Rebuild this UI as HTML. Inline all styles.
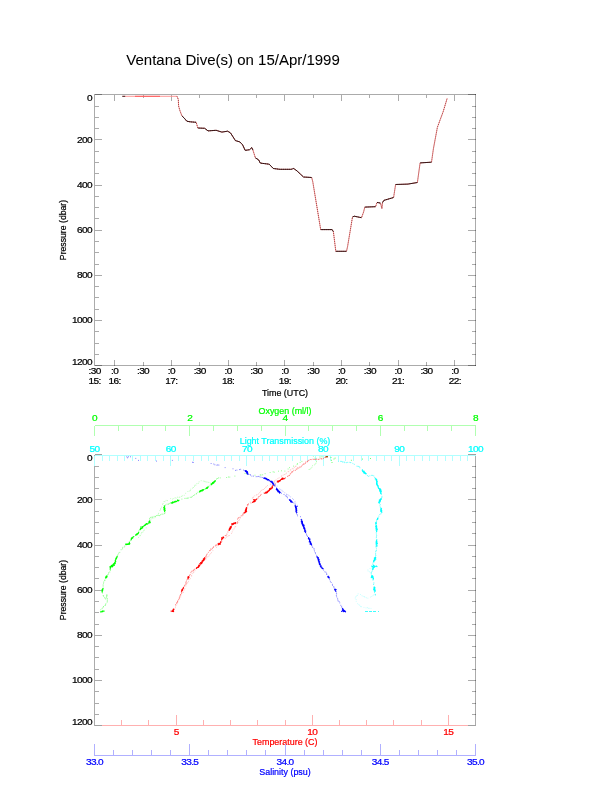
<!DOCTYPE html>
<html><head><meta charset="utf-8"><title>Ventana Dive(s) on 15/Apr/1999</title>
<style>
html,body{margin:0;padding:0;background:#fff;}
svg{display:block;will-change:transform;}
svg text{font-family:"Liberation Sans",Arial,Helvetica,sans-serif;}
svg line{shape-rendering:crispEdges;}
</style></head>
<body>
<svg width="612" height="785" viewBox="0 0 612 785">
<rect width="612" height="785" fill="#ffffff"/>
<text transform="translate(126.30,65.00)" font-size="15" fill="#000" stroke="#000" stroke-width="0.05" text-anchor="start" >Ventana Dive(s) on 15/Apr/1999</text>
<line x1="94.50" y1="94.00" x2="94.50" y2="366.00" stroke="#000" stroke-width="1"  stroke-opacity="0.33"/>
<line x1="475.50" y1="94.00" x2="475.50" y2="366.00" stroke="#000" stroke-width="1"  stroke-opacity="0.33"/>
<line x1="94.50" y1="94.50" x2="475.50" y2="94.50" stroke="#000" stroke-width="1"  stroke-opacity="0.33"/>
<line x1="94.50" y1="365.50" x2="475.50" y2="365.50" stroke="#000" stroke-width="1"  stroke-opacity="0.33"/>
<line x1="94.50" y1="94.50" x2="102.00" y2="94.50" stroke="#000" stroke-width="1"  stroke-opacity="0.33"/>
<line x1="475.50" y1="94.50" x2="468.00" y2="94.50" stroke="#000" stroke-width="1"  stroke-opacity="0.33"/>
<line x1="94.50" y1="106.50" x2="98.50" y2="106.50" stroke="#000" stroke-width="1"  stroke-opacity="0.33"/>
<line x1="475.50" y1="106.50" x2="471.50" y2="106.50" stroke="#000" stroke-width="1"  stroke-opacity="0.33"/>
<line x1="94.50" y1="117.50" x2="98.50" y2="117.50" stroke="#000" stroke-width="1"  stroke-opacity="0.33"/>
<line x1="475.50" y1="117.50" x2="471.50" y2="117.50" stroke="#000" stroke-width="1"  stroke-opacity="0.33"/>
<line x1="94.50" y1="128.50" x2="98.50" y2="128.50" stroke="#000" stroke-width="1"  stroke-opacity="0.33"/>
<line x1="475.50" y1="128.50" x2="471.50" y2="128.50" stroke="#000" stroke-width="1"  stroke-opacity="0.33"/>
<line x1="94.50" y1="139.50" x2="102.00" y2="139.50" stroke="#000" stroke-width="1"  stroke-opacity="0.33"/>
<line x1="475.50" y1="139.50" x2="468.00" y2="139.50" stroke="#000" stroke-width="1"  stroke-opacity="0.33"/>
<line x1="94.50" y1="151.50" x2="98.50" y2="151.50" stroke="#000" stroke-width="1"  stroke-opacity="0.33"/>
<line x1="475.50" y1="151.50" x2="471.50" y2="151.50" stroke="#000" stroke-width="1"  stroke-opacity="0.33"/>
<line x1="94.50" y1="162.50" x2="98.50" y2="162.50" stroke="#000" stroke-width="1"  stroke-opacity="0.33"/>
<line x1="475.50" y1="162.50" x2="471.50" y2="162.50" stroke="#000" stroke-width="1"  stroke-opacity="0.33"/>
<line x1="94.50" y1="173.50" x2="98.50" y2="173.50" stroke="#000" stroke-width="1"  stroke-opacity="0.33"/>
<line x1="475.50" y1="173.50" x2="471.50" y2="173.50" stroke="#000" stroke-width="1"  stroke-opacity="0.33"/>
<line x1="94.50" y1="185.50" x2="102.00" y2="185.50" stroke="#000" stroke-width="1"  stroke-opacity="0.33"/>
<line x1="475.50" y1="185.50" x2="468.00" y2="185.50" stroke="#000" stroke-width="1"  stroke-opacity="0.33"/>
<line x1="94.50" y1="196.50" x2="98.50" y2="196.50" stroke="#000" stroke-width="1"  stroke-opacity="0.33"/>
<line x1="475.50" y1="196.50" x2="471.50" y2="196.50" stroke="#000" stroke-width="1"  stroke-opacity="0.33"/>
<line x1="94.50" y1="207.50" x2="98.50" y2="207.50" stroke="#000" stroke-width="1"  stroke-opacity="0.33"/>
<line x1="475.50" y1="207.50" x2="471.50" y2="207.50" stroke="#000" stroke-width="1"  stroke-opacity="0.33"/>
<line x1="94.50" y1="218.50" x2="98.50" y2="218.50" stroke="#000" stroke-width="1"  stroke-opacity="0.33"/>
<line x1="475.50" y1="218.50" x2="471.50" y2="218.50" stroke="#000" stroke-width="1"  stroke-opacity="0.33"/>
<line x1="94.50" y1="230.50" x2="102.00" y2="230.50" stroke="#000" stroke-width="1"  stroke-opacity="0.33"/>
<line x1="475.50" y1="230.50" x2="468.00" y2="230.50" stroke="#000" stroke-width="1"  stroke-opacity="0.33"/>
<line x1="94.50" y1="241.50" x2="98.50" y2="241.50" stroke="#000" stroke-width="1"  stroke-opacity="0.33"/>
<line x1="475.50" y1="241.50" x2="471.50" y2="241.50" stroke="#000" stroke-width="1"  stroke-opacity="0.33"/>
<line x1="94.50" y1="252.50" x2="98.50" y2="252.50" stroke="#000" stroke-width="1"  stroke-opacity="0.33"/>
<line x1="475.50" y1="252.50" x2="471.50" y2="252.50" stroke="#000" stroke-width="1"  stroke-opacity="0.33"/>
<line x1="94.50" y1="264.50" x2="98.50" y2="264.50" stroke="#000" stroke-width="1"  stroke-opacity="0.33"/>
<line x1="475.50" y1="264.50" x2="471.50" y2="264.50" stroke="#000" stroke-width="1"  stroke-opacity="0.33"/>
<line x1="94.50" y1="275.50" x2="102.00" y2="275.50" stroke="#000" stroke-width="1"  stroke-opacity="0.33"/>
<line x1="475.50" y1="275.50" x2="468.00" y2="275.50" stroke="#000" stroke-width="1"  stroke-opacity="0.33"/>
<line x1="94.50" y1="286.50" x2="98.50" y2="286.50" stroke="#000" stroke-width="1"  stroke-opacity="0.33"/>
<line x1="475.50" y1="286.50" x2="471.50" y2="286.50" stroke="#000" stroke-width="1"  stroke-opacity="0.33"/>
<line x1="94.50" y1="297.50" x2="98.50" y2="297.50" stroke="#000" stroke-width="1"  stroke-opacity="0.33"/>
<line x1="475.50" y1="297.50" x2="471.50" y2="297.50" stroke="#000" stroke-width="1"  stroke-opacity="0.33"/>
<line x1="94.50" y1="309.50" x2="98.50" y2="309.50" stroke="#000" stroke-width="1"  stroke-opacity="0.33"/>
<line x1="475.50" y1="309.50" x2="471.50" y2="309.50" stroke="#000" stroke-width="1"  stroke-opacity="0.33"/>
<line x1="94.50" y1="320.50" x2="102.00" y2="320.50" stroke="#000" stroke-width="1"  stroke-opacity="0.33"/>
<line x1="475.50" y1="320.50" x2="468.00" y2="320.50" stroke="#000" stroke-width="1"  stroke-opacity="0.33"/>
<line x1="94.50" y1="331.50" x2="98.50" y2="331.50" stroke="#000" stroke-width="1"  stroke-opacity="0.33"/>
<line x1="475.50" y1="331.50" x2="471.50" y2="331.50" stroke="#000" stroke-width="1"  stroke-opacity="0.33"/>
<line x1="94.50" y1="343.50" x2="98.50" y2="343.50" stroke="#000" stroke-width="1"  stroke-opacity="0.33"/>
<line x1="475.50" y1="343.50" x2="471.50" y2="343.50" stroke="#000" stroke-width="1"  stroke-opacity="0.33"/>
<line x1="94.50" y1="354.50" x2="98.50" y2="354.50" stroke="#000" stroke-width="1"  stroke-opacity="0.33"/>
<line x1="475.50" y1="354.50" x2="471.50" y2="354.50" stroke="#000" stroke-width="1"  stroke-opacity="0.33"/>
<line x1="94.50" y1="365.50" x2="102.00" y2="365.50" stroke="#000" stroke-width="1"  stroke-opacity="0.33"/>
<line x1="475.50" y1="365.50" x2="468.00" y2="365.50" stroke="#000" stroke-width="1"  stroke-opacity="0.33"/>
<line x1="114.50" y1="365.50" x2="114.50" y2="359.50" stroke="#000" stroke-width="1"  stroke-opacity="0.33"/>
<line x1="114.50" y1="94.50" x2="114.50" y2="100.50" stroke="#000" stroke-width="1"  stroke-opacity="0.33"/>
<line x1="143.50" y1="365.50" x2="143.50" y2="362.00" stroke="#000" stroke-width="1"  stroke-opacity="0.33"/>
<line x1="143.50" y1="94.50" x2="143.50" y2="98.00" stroke="#000" stroke-width="1"  stroke-opacity="0.33"/>
<line x1="171.50" y1="365.50" x2="171.50" y2="359.50" stroke="#000" stroke-width="1"  stroke-opacity="0.33"/>
<line x1="171.50" y1="94.50" x2="171.50" y2="100.50" stroke="#000" stroke-width="1"  stroke-opacity="0.33"/>
<line x1="199.50" y1="365.50" x2="199.50" y2="362.00" stroke="#000" stroke-width="1"  stroke-opacity="0.33"/>
<line x1="199.50" y1="94.50" x2="199.50" y2="98.00" stroke="#000" stroke-width="1"  stroke-opacity="0.33"/>
<line x1="228.50" y1="365.50" x2="228.50" y2="359.50" stroke="#000" stroke-width="1"  stroke-opacity="0.33"/>
<line x1="228.50" y1="94.50" x2="228.50" y2="100.50" stroke="#000" stroke-width="1"  stroke-opacity="0.33"/>
<line x1="256.50" y1="365.50" x2="256.50" y2="362.00" stroke="#000" stroke-width="1"  stroke-opacity="0.33"/>
<line x1="256.50" y1="94.50" x2="256.50" y2="98.00" stroke="#000" stroke-width="1"  stroke-opacity="0.33"/>
<line x1="284.50" y1="365.50" x2="284.50" y2="359.50" stroke="#000" stroke-width="1"  stroke-opacity="0.33"/>
<line x1="284.50" y1="94.50" x2="284.50" y2="100.50" stroke="#000" stroke-width="1"  stroke-opacity="0.33"/>
<line x1="313.50" y1="365.50" x2="313.50" y2="362.00" stroke="#000" stroke-width="1"  stroke-opacity="0.33"/>
<line x1="313.50" y1="94.50" x2="313.50" y2="98.00" stroke="#000" stroke-width="1"  stroke-opacity="0.33"/>
<line x1="341.50" y1="365.50" x2="341.50" y2="359.50" stroke="#000" stroke-width="1"  stroke-opacity="0.33"/>
<line x1="341.50" y1="94.50" x2="341.50" y2="100.50" stroke="#000" stroke-width="1"  stroke-opacity="0.33"/>
<line x1="369.50" y1="365.50" x2="369.50" y2="362.00" stroke="#000" stroke-width="1"  stroke-opacity="0.33"/>
<line x1="369.50" y1="94.50" x2="369.50" y2="98.00" stroke="#000" stroke-width="1"  stroke-opacity="0.33"/>
<line x1="398.50" y1="365.50" x2="398.50" y2="359.50" stroke="#000" stroke-width="1"  stroke-opacity="0.33"/>
<line x1="398.50" y1="94.50" x2="398.50" y2="100.50" stroke="#000" stroke-width="1"  stroke-opacity="0.33"/>
<line x1="426.50" y1="365.50" x2="426.50" y2="362.00" stroke="#000" stroke-width="1"  stroke-opacity="0.33"/>
<line x1="426.50" y1="94.50" x2="426.50" y2="98.00" stroke="#000" stroke-width="1"  stroke-opacity="0.33"/>
<line x1="454.50" y1="365.50" x2="454.50" y2="359.50" stroke="#000" stroke-width="1"  stroke-opacity="0.33"/>
<line x1="454.50" y1="94.50" x2="454.50" y2="100.50" stroke="#000" stroke-width="1"  stroke-opacity="0.33"/>
<text transform="translate(92.00,100.70) scale(1.12,1)" font-size="9.0" fill="#000" stroke="#000" stroke-width="0.22" text-anchor="end"  letter-spacing="-0.55">0</text>
<text transform="translate(92.00,142.83) scale(1.12,1)" font-size="9.0" fill="#000" stroke="#000" stroke-width="0.22" text-anchor="end"  letter-spacing="-0.55">200</text>
<text transform="translate(92.00,187.97) scale(1.12,1)" font-size="9.0" fill="#000" stroke="#000" stroke-width="0.22" text-anchor="end"  letter-spacing="-0.55">400</text>
<text transform="translate(92.00,233.10) scale(1.12,1)" font-size="9.0" fill="#000" stroke="#000" stroke-width="0.22" text-anchor="end"  letter-spacing="-0.55">600</text>
<text transform="translate(92.00,278.23) scale(1.12,1)" font-size="9.0" fill="#000" stroke="#000" stroke-width="0.22" text-anchor="end"  letter-spacing="-0.55">800</text>
<text transform="translate(92.00,323.37) scale(1.12,1)" font-size="9.0" fill="#000" stroke="#000" stroke-width="0.22" text-anchor="end"  letter-spacing="-0.55">1000</text>
<text transform="translate(92.00,365.00) scale(1.12,1)" font-size="9.0" fill="#000" stroke="#000" stroke-width="0.22" text-anchor="end"  letter-spacing="-0.55">1200</text>
<text transform="translate(94.70,373.90) scale(1.12,1)" font-size="9.0" fill="#000" stroke="#000" stroke-width="0.22" text-anchor="middle"  letter-spacing="-0.55">:30</text>
<text transform="translate(94.70,384.20) scale(1.12,1)" font-size="9.0" fill="#000" stroke="#000" stroke-width="0.22" text-anchor="middle"  letter-spacing="-0.55">15:</text>
<text transform="translate(114.69,373.90) scale(1.12,1)" font-size="9.0" fill="#000" stroke="#000" stroke-width="0.22" text-anchor="middle"  letter-spacing="-0.55">:0</text>
<text transform="translate(114.69,384.20) scale(1.12,1)" font-size="9.0" fill="#000" stroke="#000" stroke-width="0.22" text-anchor="middle"  letter-spacing="-0.55">16:</text>
<text transform="translate(143.04,373.90) scale(1.12,1)" font-size="9.0" fill="#000" stroke="#000" stroke-width="0.22" text-anchor="middle"  letter-spacing="-0.55">:30</text>
<text transform="translate(171.39,373.90) scale(1.12,1)" font-size="9.0" fill="#000" stroke="#000" stroke-width="0.22" text-anchor="middle"  letter-spacing="-0.55">:0</text>
<text transform="translate(171.39,384.20) scale(1.12,1)" font-size="9.0" fill="#000" stroke="#000" stroke-width="0.22" text-anchor="middle"  letter-spacing="-0.55">17:</text>
<text transform="translate(199.73,373.90) scale(1.12,1)" font-size="9.0" fill="#000" stroke="#000" stroke-width="0.22" text-anchor="middle"  letter-spacing="-0.55">:30</text>
<text transform="translate(228.08,373.90) scale(1.12,1)" font-size="9.0" fill="#000" stroke="#000" stroke-width="0.22" text-anchor="middle"  letter-spacing="-0.55">:0</text>
<text transform="translate(228.08,384.20) scale(1.12,1)" font-size="9.0" fill="#000" stroke="#000" stroke-width="0.22" text-anchor="middle"  letter-spacing="-0.55">18:</text>
<text transform="translate(256.43,373.90) scale(1.12,1)" font-size="9.0" fill="#000" stroke="#000" stroke-width="0.22" text-anchor="middle"  letter-spacing="-0.55">:30</text>
<text transform="translate(284.78,373.90) scale(1.12,1)" font-size="9.0" fill="#000" stroke="#000" stroke-width="0.22" text-anchor="middle"  letter-spacing="-0.55">:0</text>
<text transform="translate(284.78,384.20) scale(1.12,1)" font-size="9.0" fill="#000" stroke="#000" stroke-width="0.22" text-anchor="middle"  letter-spacing="-0.55">19:</text>
<text transform="translate(313.13,373.90) scale(1.12,1)" font-size="9.0" fill="#000" stroke="#000" stroke-width="0.22" text-anchor="middle"  letter-spacing="-0.55">:30</text>
<text transform="translate(341.47,373.90) scale(1.12,1)" font-size="9.0" fill="#000" stroke="#000" stroke-width="0.22" text-anchor="middle"  letter-spacing="-0.55">:0</text>
<text transform="translate(341.47,384.20) scale(1.12,1)" font-size="9.0" fill="#000" stroke="#000" stroke-width="0.22" text-anchor="middle"  letter-spacing="-0.55">20:</text>
<text transform="translate(369.82,373.90) scale(1.12,1)" font-size="9.0" fill="#000" stroke="#000" stroke-width="0.22" text-anchor="middle"  letter-spacing="-0.55">:30</text>
<text transform="translate(398.17,373.90) scale(1.12,1)" font-size="9.0" fill="#000" stroke="#000" stroke-width="0.22" text-anchor="middle"  letter-spacing="-0.55">:0</text>
<text transform="translate(398.17,384.20) scale(1.12,1)" font-size="9.0" fill="#000" stroke="#000" stroke-width="0.22" text-anchor="middle"  letter-spacing="-0.55">21:</text>
<text transform="translate(426.52,373.90) scale(1.12,1)" font-size="9.0" fill="#000" stroke="#000" stroke-width="0.22" text-anchor="middle"  letter-spacing="-0.55">:30</text>
<text transform="translate(454.87,373.90) scale(1.12,1)" font-size="9.0" fill="#000" stroke="#000" stroke-width="0.22" text-anchor="middle"  letter-spacing="-0.55">:0</text>
<text transform="translate(454.87,384.20) scale(1.12,1)" font-size="9.0" fill="#000" stroke="#000" stroke-width="0.22" text-anchor="middle"  letter-spacing="-0.55">22:</text>
<text transform="translate(285.00,395.60) scale(0.97,1)" font-size="9.2" fill="#000" stroke="#000" stroke-width="0.22" text-anchor="middle" >Time (UTC)</text>
<text transform="translate(66.00,230.00) rotate(-90) scale(0.915,1)" font-size="9.5" fill="#000" stroke="#000" stroke-width="0.22" text-anchor="middle" >Pressure (dbar)</text>
<polyline points="122.3,96.3 125.0,96.3 177.0,96.3 178.3,99.4 178.6,106.0 180.0,110.9 181.9,115.8 184.3,118.2 186.8,121.2 190.0,121.8 196.2,122.3 197.8,128.0 204.7,128.3 208.0,130.9 216.1,130.3 221.9,132.1 227.6,131.2 230.5,132.9 235.4,140.6 239.8,141.9 242.6,144.8 245.2,150.4 249.6,149.7 251.8,147.6 252.9,150.0 255.4,157.9 258.6,159.8 260.3,163.1 269.2,164.2 273.3,168.5 279.8,169.3 291.2,169.3 293.7,168.5 297.0,170.9 303.5,177.0 311.7,177.5 312.8,181.9 320.7,229.6 332.1,229.6 333.4,231.7 335.8,251.3 346.5,251.3 347.6,246.4 352.5,217.0 354.2,216.2 361.5,217.7 363.6,212.0 364.8,207.1 375.6,206.7 377.0,202.4 380.5,203.1 381.9,208.6 382.5,202.7 383.8,200.4 393.6,197.5 395.6,184.5 407.9,184.1 417.4,182.5 420.1,162.9 431.5,162.2 433.4,148.8 437.4,127.3 440.3,119.4 443.2,111.6 447.2,98.2" fill="none" stroke="#ff8c8c" stroke-width="0.9" stroke-linejoin="round"/>
<line x1="135" y1="96.3" x2="160" y2="96.3" stroke="#ff5050" stroke-width="0.9" style="shape-rendering:auto"/>
<polyline points="177.0,96.3 178.3,99.4 178.6,106.0 180.0,110.9 181.9,115.8 184.3,118.2 186.8,121.2 190.0,121.8 196.2,122.3 197.8,128.0 204.7,128.3 208.0,130.9 216.1,130.3 221.9,132.1 227.6,131.2 230.5,132.9 235.4,140.6 239.8,141.9 242.6,144.8 245.2,150.4 249.6,149.7 251.8,147.6 252.9,150.0 255.4,157.9 258.6,159.8 260.3,163.1 269.2,164.2 273.3,168.5 279.8,169.3 291.2,169.3 293.7,168.5 297.0,170.9 303.5,177.0 311.7,177.5 312.8,181.9 320.7,229.6 332.1,229.6 333.4,231.7 335.8,251.3 346.5,251.3 347.6,246.4 352.5,217.0 354.2,216.2 361.5,217.7 363.6,212.0 364.8,207.1 375.6,206.7 377.0,202.4 380.5,203.1 381.9,208.6 382.5,202.7 383.8,200.4 393.6,197.5 395.6,184.5 407.9,184.1 417.4,182.5 420.1,162.9 431.5,162.2 433.4,148.8 437.4,127.3 440.3,119.4 443.2,111.6 447.2,98.2" fill="none" stroke="#5a1010" stroke-width="0.9" stroke-opacity="0.75" stroke-dasharray="0.9 1.1" stroke-linejoin="round"/>
<polyline points="181.9,115.8 184.3,118.2 186.8,121.2 190.0,121.8 196.2,122.3" fill="none" stroke="#140000" stroke-width="0.95" stroke-opacity="0.85" stroke-linejoin="round"/>
<polyline points="197.8,128.0 204.7,128.3 208.0,130.9 216.1,130.3 221.9,132.1 227.6,131.2 230.5,132.9 235.4,140.6 239.8,141.9 242.6,144.8 245.2,150.4 249.6,149.7 251.8,147.6 252.9,150.0" fill="none" stroke="#140000" stroke-width="0.95" stroke-opacity="0.85" stroke-linejoin="round"/>
<polyline points="255.4,157.9 258.6,159.8 260.3,163.1 269.2,164.2 273.3,168.5 279.8,169.3 291.2,169.3 293.7,168.5 297.0,170.9 303.5,177.0 311.7,177.5" fill="none" stroke="#140000" stroke-width="0.95" stroke-opacity="0.85" stroke-linejoin="round"/>
<polyline points="320.7,229.6 332.1,229.6 333.4,231.7" fill="none" stroke="#140000" stroke-width="0.95" stroke-opacity="0.85" stroke-linejoin="round"/>
<polyline points="335.8,251.3 346.5,251.3" fill="none" stroke="#140000" stroke-width="0.95" stroke-opacity="0.85" stroke-linejoin="round"/>
<polyline points="352.5,217.0 354.2,216.2 361.5,217.7" fill="none" stroke="#140000" stroke-width="0.95" stroke-opacity="0.85" stroke-linejoin="round"/>
<polyline points="364.8,207.1 375.6,206.7" fill="none" stroke="#140000" stroke-width="0.95" stroke-opacity="0.85" stroke-linejoin="round"/>
<polyline points="377.0,202.4 380.5,203.1" fill="none" stroke="#140000" stroke-width="0.95" stroke-opacity="0.85" stroke-linejoin="round"/>
<polyline points="382.5,202.7 383.8,200.4 393.6,197.5" fill="none" stroke="#140000" stroke-width="0.95" stroke-opacity="0.85" stroke-linejoin="round"/>
<polyline points="395.6,184.5 407.9,184.1 417.4,182.5" fill="none" stroke="#140000" stroke-width="0.95" stroke-opacity="0.85" stroke-linejoin="round"/>
<polyline points="420.1,162.9 431.5,162.2" fill="none" stroke="#140000" stroke-width="0.95" stroke-opacity="0.85" stroke-linejoin="round"/>
<polyline points="122.3,96.3 125.2,96.3" fill="none" stroke="#140000" stroke-width="0.95" stroke-opacity="0.85" stroke-linejoin="round"/>
<line x1="94.50" y1="455.00" x2="94.50" y2="726.00" stroke="#000" stroke-width="1"  stroke-opacity="0.33"/>
<line x1="475.50" y1="455.00" x2="475.50" y2="726.00" stroke="#000" stroke-width="1"  stroke-opacity="0.33"/>
<line x1="94.50" y1="454.50" x2="102.00" y2="454.50" stroke="#000" stroke-width="1"  stroke-opacity="0.33"/>
<line x1="475.50" y1="454.50" x2="468.00" y2="454.50" stroke="#000" stroke-width="1"  stroke-opacity="0.33"/>
<line x1="94.50" y1="466.50" x2="98.50" y2="466.50" stroke="#000" stroke-width="1"  stroke-opacity="0.33"/>
<line x1="475.50" y1="466.50" x2="471.50" y2="466.50" stroke="#000" stroke-width="1"  stroke-opacity="0.33"/>
<line x1="94.50" y1="477.50" x2="98.50" y2="477.50" stroke="#000" stroke-width="1"  stroke-opacity="0.33"/>
<line x1="475.50" y1="477.50" x2="471.50" y2="477.50" stroke="#000" stroke-width="1"  stroke-opacity="0.33"/>
<line x1="94.50" y1="488.50" x2="98.50" y2="488.50" stroke="#000" stroke-width="1"  stroke-opacity="0.33"/>
<line x1="475.50" y1="488.50" x2="471.50" y2="488.50" stroke="#000" stroke-width="1"  stroke-opacity="0.33"/>
<line x1="94.50" y1="499.50" x2="102.00" y2="499.50" stroke="#000" stroke-width="1"  stroke-opacity="0.33"/>
<line x1="475.50" y1="499.50" x2="468.00" y2="499.50" stroke="#000" stroke-width="1"  stroke-opacity="0.33"/>
<line x1="94.50" y1="511.50" x2="98.50" y2="511.50" stroke="#000" stroke-width="1"  stroke-opacity="0.33"/>
<line x1="475.50" y1="511.50" x2="471.50" y2="511.50" stroke="#000" stroke-width="1"  stroke-opacity="0.33"/>
<line x1="94.50" y1="522.50" x2="98.50" y2="522.50" stroke="#000" stroke-width="1"  stroke-opacity="0.33"/>
<line x1="475.50" y1="522.50" x2="471.50" y2="522.50" stroke="#000" stroke-width="1"  stroke-opacity="0.33"/>
<line x1="94.50" y1="533.50" x2="98.50" y2="533.50" stroke="#000" stroke-width="1"  stroke-opacity="0.33"/>
<line x1="475.50" y1="533.50" x2="471.50" y2="533.50" stroke="#000" stroke-width="1"  stroke-opacity="0.33"/>
<line x1="94.50" y1="545.50" x2="102.00" y2="545.50" stroke="#000" stroke-width="1"  stroke-opacity="0.33"/>
<line x1="475.50" y1="545.50" x2="468.00" y2="545.50" stroke="#000" stroke-width="1"  stroke-opacity="0.33"/>
<line x1="94.50" y1="556.50" x2="98.50" y2="556.50" stroke="#000" stroke-width="1"  stroke-opacity="0.33"/>
<line x1="475.50" y1="556.50" x2="471.50" y2="556.50" stroke="#000" stroke-width="1"  stroke-opacity="0.33"/>
<line x1="94.50" y1="567.50" x2="98.50" y2="567.50" stroke="#000" stroke-width="1"  stroke-opacity="0.33"/>
<line x1="475.50" y1="567.50" x2="471.50" y2="567.50" stroke="#000" stroke-width="1"  stroke-opacity="0.33"/>
<line x1="94.50" y1="578.50" x2="98.50" y2="578.50" stroke="#000" stroke-width="1"  stroke-opacity="0.33"/>
<line x1="475.50" y1="578.50" x2="471.50" y2="578.50" stroke="#000" stroke-width="1"  stroke-opacity="0.33"/>
<line x1="94.50" y1="590.50" x2="102.00" y2="590.50" stroke="#000" stroke-width="1"  stroke-opacity="0.33"/>
<line x1="475.50" y1="590.50" x2="468.00" y2="590.50" stroke="#000" stroke-width="1"  stroke-opacity="0.33"/>
<line x1="94.50" y1="601.50" x2="98.50" y2="601.50" stroke="#000" stroke-width="1"  stroke-opacity="0.33"/>
<line x1="475.50" y1="601.50" x2="471.50" y2="601.50" stroke="#000" stroke-width="1"  stroke-opacity="0.33"/>
<line x1="94.50" y1="612.50" x2="98.50" y2="612.50" stroke="#000" stroke-width="1"  stroke-opacity="0.33"/>
<line x1="475.50" y1="612.50" x2="471.50" y2="612.50" stroke="#000" stroke-width="1"  stroke-opacity="0.33"/>
<line x1="94.50" y1="624.50" x2="98.50" y2="624.50" stroke="#000" stroke-width="1"  stroke-opacity="0.33"/>
<line x1="475.50" y1="624.50" x2="471.50" y2="624.50" stroke="#000" stroke-width="1"  stroke-opacity="0.33"/>
<line x1="94.50" y1="635.50" x2="102.00" y2="635.50" stroke="#000" stroke-width="1"  stroke-opacity="0.33"/>
<line x1="475.50" y1="635.50" x2="468.00" y2="635.50" stroke="#000" stroke-width="1"  stroke-opacity="0.33"/>
<line x1="94.50" y1="646.50" x2="98.50" y2="646.50" stroke="#000" stroke-width="1"  stroke-opacity="0.33"/>
<line x1="475.50" y1="646.50" x2="471.50" y2="646.50" stroke="#000" stroke-width="1"  stroke-opacity="0.33"/>
<line x1="94.50" y1="657.50" x2="98.50" y2="657.50" stroke="#000" stroke-width="1"  stroke-opacity="0.33"/>
<line x1="475.50" y1="657.50" x2="471.50" y2="657.50" stroke="#000" stroke-width="1"  stroke-opacity="0.33"/>
<line x1="94.50" y1="669.50" x2="98.50" y2="669.50" stroke="#000" stroke-width="1"  stroke-opacity="0.33"/>
<line x1="475.50" y1="669.50" x2="471.50" y2="669.50" stroke="#000" stroke-width="1"  stroke-opacity="0.33"/>
<line x1="94.50" y1="680.50" x2="102.00" y2="680.50" stroke="#000" stroke-width="1"  stroke-opacity="0.33"/>
<line x1="475.50" y1="680.50" x2="468.00" y2="680.50" stroke="#000" stroke-width="1"  stroke-opacity="0.33"/>
<line x1="94.50" y1="691.50" x2="98.50" y2="691.50" stroke="#000" stroke-width="1"  stroke-opacity="0.33"/>
<line x1="475.50" y1="691.50" x2="471.50" y2="691.50" stroke="#000" stroke-width="1"  stroke-opacity="0.33"/>
<line x1="94.50" y1="703.50" x2="98.50" y2="703.50" stroke="#000" stroke-width="1"  stroke-opacity="0.33"/>
<line x1="475.50" y1="703.50" x2="471.50" y2="703.50" stroke="#000" stroke-width="1"  stroke-opacity="0.33"/>
<line x1="94.50" y1="714.50" x2="98.50" y2="714.50" stroke="#000" stroke-width="1"  stroke-opacity="0.33"/>
<line x1="475.50" y1="714.50" x2="471.50" y2="714.50" stroke="#000" stroke-width="1"  stroke-opacity="0.33"/>
<line x1="94.50" y1="725.50" x2="102.00" y2="725.50" stroke="#000" stroke-width="1"  stroke-opacity="0.33"/>
<line x1="475.50" y1="725.50" x2="468.00" y2="725.50" stroke="#000" stroke-width="1"  stroke-opacity="0.33"/>
<text transform="translate(92.00,460.70) scale(1.12,1)" font-size="9.0" fill="#000" stroke="#000" stroke-width="0.22" text-anchor="end"  letter-spacing="-0.55">0</text>
<text transform="translate(92.00,502.83) scale(1.12,1)" font-size="9.0" fill="#000" stroke="#000" stroke-width="0.22" text-anchor="end"  letter-spacing="-0.55">200</text>
<text transform="translate(92.00,547.97) scale(1.12,1)" font-size="9.0" fill="#000" stroke="#000" stroke-width="0.22" text-anchor="end"  letter-spacing="-0.55">400</text>
<text transform="translate(92.00,593.10) scale(1.12,1)" font-size="9.0" fill="#000" stroke="#000" stroke-width="0.22" text-anchor="end"  letter-spacing="-0.55">600</text>
<text transform="translate(92.00,638.23) scale(1.12,1)" font-size="9.0" fill="#000" stroke="#000" stroke-width="0.22" text-anchor="end"  letter-spacing="-0.55">800</text>
<text transform="translate(92.00,683.37) scale(1.12,1)" font-size="9.0" fill="#000" stroke="#000" stroke-width="0.22" text-anchor="end"  letter-spacing="-0.55">1000</text>
<text transform="translate(92.00,725.00) scale(1.12,1)" font-size="9.0" fill="#000" stroke="#000" stroke-width="0.22" text-anchor="end"  letter-spacing="-0.55">1200</text>
<text transform="translate(66.00,590.00) rotate(-90) scale(0.915,1)" font-size="9.5" fill="#000" stroke="#000" stroke-width="0.22" text-anchor="middle" >Pressure (dbar)</text>
<line x1="94.50" y1="425.50" x2="475.50" y2="425.50" stroke="#b0ffb0" stroke-width="1" />
<line x1="94.50" y1="425.50" x2="94.50" y2="435.50" stroke="#b0ffb0" stroke-width="1" />
<line x1="118.50" y1="425.50" x2="118.50" y2="430.80" stroke="#b0ffb0" stroke-width="1" />
<line x1="142.50" y1="425.50" x2="142.50" y2="430.80" stroke="#b0ffb0" stroke-width="1" />
<line x1="165.50" y1="425.50" x2="165.50" y2="430.80" stroke="#b0ffb0" stroke-width="1" />
<line x1="189.50" y1="425.50" x2="189.50" y2="435.50" stroke="#b0ffb0" stroke-width="1" />
<line x1="213.50" y1="425.50" x2="213.50" y2="430.80" stroke="#b0ffb0" stroke-width="1" />
<line x1="237.50" y1="425.50" x2="237.50" y2="430.80" stroke="#b0ffb0" stroke-width="1" />
<line x1="261.50" y1="425.50" x2="261.50" y2="430.80" stroke="#b0ffb0" stroke-width="1" />
<line x1="285.50" y1="425.50" x2="285.50" y2="435.50" stroke="#b0ffb0" stroke-width="1" />
<line x1="308.50" y1="425.50" x2="308.50" y2="430.80" stroke="#b0ffb0" stroke-width="1" />
<line x1="332.50" y1="425.50" x2="332.50" y2="430.80" stroke="#b0ffb0" stroke-width="1" />
<line x1="356.50" y1="425.50" x2="356.50" y2="430.80" stroke="#b0ffb0" stroke-width="1" />
<line x1="380.50" y1="425.50" x2="380.50" y2="435.50" stroke="#b0ffb0" stroke-width="1" />
<line x1="404.50" y1="425.50" x2="404.50" y2="430.80" stroke="#b0ffb0" stroke-width="1" />
<line x1="427.50" y1="425.50" x2="427.50" y2="430.80" stroke="#b0ffb0" stroke-width="1" />
<line x1="451.50" y1="425.50" x2="451.50" y2="430.80" stroke="#b0ffb0" stroke-width="1" />
<line x1="475.50" y1="425.50" x2="475.50" y2="435.50" stroke="#b0ffb0" stroke-width="1" />
<text transform="translate(94.50,421.00) scale(1.12,1)" font-size="9.0" fill="#00ff00" stroke="#00ff00" stroke-width="0.22" text-anchor="middle"  letter-spacing="-0.55">0</text>
<text transform="translate(189.75,421.00) scale(1.12,1)" font-size="9.0" fill="#00ff00" stroke="#00ff00" stroke-width="0.22" text-anchor="middle"  letter-spacing="-0.55">2</text>
<text transform="translate(285.00,421.00) scale(1.12,1)" font-size="9.0" fill="#00ff00" stroke="#00ff00" stroke-width="0.22" text-anchor="middle"  letter-spacing="-0.55">4</text>
<text transform="translate(380.25,421.00) scale(1.12,1)" font-size="9.0" fill="#00ff00" stroke="#00ff00" stroke-width="0.22" text-anchor="middle"  letter-spacing="-0.55">6</text>
<text transform="translate(475.50,421.00) scale(1.12,1)" font-size="9.0" fill="#00ff00" stroke="#00ff00" stroke-width="0.22" text-anchor="middle"  letter-spacing="-0.55">8</text>
<text transform="translate(285.00,414.30) scale(0.97,1)" font-size="9.2" fill="#00ff00" stroke="#00ff00" stroke-width="0.22" text-anchor="middle" >Oxygen (ml/l)</text>
<line x1="94.50" y1="455.50" x2="475.50" y2="455.50" stroke="#b0ffff" stroke-width="1" />
<line x1="94.50" y1="455.50" x2="94.50" y2="466.00" stroke="#b0ffff" stroke-width="1" />
<line x1="102.50" y1="455.50" x2="102.50" y2="460.80" stroke="#b0ffff" stroke-width="1" />
<line x1="109.50" y1="455.50" x2="109.50" y2="460.80" stroke="#b0ffff" stroke-width="1" />
<line x1="117.50" y1="455.50" x2="117.50" y2="460.80" stroke="#b0ffff" stroke-width="1" />
<line x1="124.50" y1="455.50" x2="124.50" y2="460.80" stroke="#b0ffff" stroke-width="1" />
<line x1="132.50" y1="455.50" x2="132.50" y2="460.80" stroke="#b0ffff" stroke-width="1" />
<line x1="140.50" y1="455.50" x2="140.50" y2="460.80" stroke="#b0ffff" stroke-width="1" />
<line x1="147.50" y1="455.50" x2="147.50" y2="460.80" stroke="#b0ffff" stroke-width="1" />
<line x1="155.50" y1="455.50" x2="155.50" y2="460.80" stroke="#b0ffff" stroke-width="1" />
<line x1="163.50" y1="455.50" x2="163.50" y2="460.80" stroke="#b0ffff" stroke-width="1" />
<line x1="170.50" y1="455.50" x2="170.50" y2="466.00" stroke="#b0ffff" stroke-width="1" />
<line x1="178.50" y1="455.50" x2="178.50" y2="460.80" stroke="#b0ffff" stroke-width="1" />
<line x1="185.50" y1="455.50" x2="185.50" y2="460.80" stroke="#b0ffff" stroke-width="1" />
<line x1="193.50" y1="455.50" x2="193.50" y2="460.80" stroke="#b0ffff" stroke-width="1" />
<line x1="201.50" y1="455.50" x2="201.50" y2="460.80" stroke="#b0ffff" stroke-width="1" />
<line x1="208.50" y1="455.50" x2="208.50" y2="460.80" stroke="#b0ffff" stroke-width="1" />
<line x1="216.50" y1="455.50" x2="216.50" y2="460.80" stroke="#b0ffff" stroke-width="1" />
<line x1="224.50" y1="455.50" x2="224.50" y2="460.80" stroke="#b0ffff" stroke-width="1" />
<line x1="231.50" y1="455.50" x2="231.50" y2="460.80" stroke="#b0ffff" stroke-width="1" />
<line x1="239.50" y1="455.50" x2="239.50" y2="460.80" stroke="#b0ffff" stroke-width="1" />
<line x1="246.50" y1="455.50" x2="246.50" y2="466.00" stroke="#b0ffff" stroke-width="1" />
<line x1="254.50" y1="455.50" x2="254.50" y2="460.80" stroke="#b0ffff" stroke-width="1" />
<line x1="262.50" y1="455.50" x2="262.50" y2="460.80" stroke="#b0ffff" stroke-width="1" />
<line x1="269.50" y1="455.50" x2="269.50" y2="460.80" stroke="#b0ffff" stroke-width="1" />
<line x1="277.50" y1="455.50" x2="277.50" y2="460.80" stroke="#b0ffff" stroke-width="1" />
<line x1="285.50" y1="455.50" x2="285.50" y2="460.80" stroke="#b0ffff" stroke-width="1" />
<line x1="292.50" y1="455.50" x2="292.50" y2="460.80" stroke="#b0ffff" stroke-width="1" />
<line x1="300.50" y1="455.50" x2="300.50" y2="460.80" stroke="#b0ffff" stroke-width="1" />
<line x1="307.50" y1="455.50" x2="307.50" y2="460.80" stroke="#b0ffff" stroke-width="1" />
<line x1="315.50" y1="455.50" x2="315.50" y2="460.80" stroke="#b0ffff" stroke-width="1" />
<line x1="323.50" y1="455.50" x2="323.50" y2="466.00" stroke="#b0ffff" stroke-width="1" />
<line x1="330.50" y1="455.50" x2="330.50" y2="460.80" stroke="#b0ffff" stroke-width="1" />
<line x1="338.50" y1="455.50" x2="338.50" y2="460.80" stroke="#b0ffff" stroke-width="1" />
<line x1="345.50" y1="455.50" x2="345.50" y2="460.80" stroke="#b0ffff" stroke-width="1" />
<line x1="353.50" y1="455.50" x2="353.50" y2="460.80" stroke="#b0ffff" stroke-width="1" />
<line x1="361.50" y1="455.50" x2="361.50" y2="460.80" stroke="#b0ffff" stroke-width="1" />
<line x1="368.50" y1="455.50" x2="368.50" y2="460.80" stroke="#b0ffff" stroke-width="1" />
<line x1="376.50" y1="455.50" x2="376.50" y2="460.80" stroke="#b0ffff" stroke-width="1" />
<line x1="384.50" y1="455.50" x2="384.50" y2="460.80" stroke="#b0ffff" stroke-width="1" />
<line x1="391.50" y1="455.50" x2="391.50" y2="460.80" stroke="#b0ffff" stroke-width="1" />
<line x1="399.50" y1="455.50" x2="399.50" y2="466.00" stroke="#b0ffff" stroke-width="1" />
<line x1="406.50" y1="455.50" x2="406.50" y2="460.80" stroke="#b0ffff" stroke-width="1" />
<line x1="414.50" y1="455.50" x2="414.50" y2="460.80" stroke="#b0ffff" stroke-width="1" />
<line x1="422.50" y1="455.50" x2="422.50" y2="460.80" stroke="#b0ffff" stroke-width="1" />
<line x1="429.50" y1="455.50" x2="429.50" y2="460.80" stroke="#b0ffff" stroke-width="1" />
<line x1="437.50" y1="455.50" x2="437.50" y2="460.80" stroke="#b0ffff" stroke-width="1" />
<line x1="445.50" y1="455.50" x2="445.50" y2="460.80" stroke="#b0ffff" stroke-width="1" />
<line x1="452.50" y1="455.50" x2="452.50" y2="460.80" stroke="#b0ffff" stroke-width="1" />
<line x1="460.50" y1="455.50" x2="460.50" y2="460.80" stroke="#b0ffff" stroke-width="1" />
<line x1="467.50" y1="455.50" x2="467.50" y2="460.80" stroke="#b0ffff" stroke-width="1" />
<text transform="translate(94.50,451.90) scale(1.12,1)" font-size="9.0" fill="#00ffff" stroke="#00ffff" stroke-width="0.22" text-anchor="middle"  letter-spacing="-0.55">50</text>
<text transform="translate(170.70,451.90) scale(1.12,1)" font-size="9.0" fill="#00ffff" stroke="#00ffff" stroke-width="0.22" text-anchor="middle"  letter-spacing="-0.55">60</text>
<text transform="translate(246.90,451.90) scale(1.12,1)" font-size="9.0" fill="#00ffff" stroke="#00ffff" stroke-width="0.22" text-anchor="middle"  letter-spacing="-0.55">70</text>
<text transform="translate(323.10,451.90) scale(1.12,1)" font-size="9.0" fill="#00ffff" stroke="#00ffff" stroke-width="0.22" text-anchor="middle"  letter-spacing="-0.55">80</text>
<text transform="translate(399.30,451.90) scale(1.12,1)" font-size="9.0" fill="#00ffff" stroke="#00ffff" stroke-width="0.22" text-anchor="middle"  letter-spacing="-0.55">90</text>
<text transform="translate(475.50,451.90) scale(1.12,1)" font-size="9.0" fill="#00ffff" stroke="#00ffff" stroke-width="0.22" text-anchor="middle"  letter-spacing="-0.55">100</text>
<text transform="translate(285.00,444.00) scale(0.97,1)" font-size="9.2" fill="#00ffff" stroke="#00ffff" stroke-width="0.22" text-anchor="middle" >Light Transmission (%)</text>
<line x1="94.50" y1="725.50" x2="475.50" y2="725.50" stroke="#ffb0b0" stroke-width="1" />
<line x1="121.50" y1="725.50" x2="121.50" y2="720.20" stroke="#ffb0b0" stroke-width="1" />
<line x1="148.50" y1="725.50" x2="148.50" y2="720.20" stroke="#ffb0b0" stroke-width="1" />
<line x1="176.50" y1="725.50" x2="176.50" y2="714.50" stroke="#ffb0b0" stroke-width="1" />
<line x1="203.50" y1="725.50" x2="203.50" y2="720.20" stroke="#ffb0b0" stroke-width="1" />
<line x1="230.50" y1="725.50" x2="230.50" y2="720.20" stroke="#ffb0b0" stroke-width="1" />
<line x1="257.50" y1="725.50" x2="257.50" y2="720.20" stroke="#ffb0b0" stroke-width="1" />
<line x1="285.50" y1="725.50" x2="285.50" y2="720.20" stroke="#ffb0b0" stroke-width="1" />
<line x1="312.50" y1="725.50" x2="312.50" y2="714.50" stroke="#ffb0b0" stroke-width="1" />
<line x1="339.50" y1="725.50" x2="339.50" y2="720.20" stroke="#ffb0b0" stroke-width="1" />
<line x1="366.50" y1="725.50" x2="366.50" y2="720.20" stroke="#ffb0b0" stroke-width="1" />
<line x1="393.50" y1="725.50" x2="393.50" y2="720.20" stroke="#ffb0b0" stroke-width="1" />
<line x1="421.50" y1="725.50" x2="421.50" y2="720.20" stroke="#ffb0b0" stroke-width="1" />
<line x1="448.50" y1="725.50" x2="448.50" y2="714.50" stroke="#ffb0b0" stroke-width="1" />
<text transform="translate(176.14,734.80) scale(1.12,1)" font-size="9.0" fill="#ff0000" stroke="#ff0000" stroke-width="0.22" text-anchor="middle"  letter-spacing="-0.55">5</text>
<text transform="translate(312.21,734.80) scale(1.12,1)" font-size="9.0" fill="#ff0000" stroke="#ff0000" stroke-width="0.22" text-anchor="middle"  letter-spacing="-0.55">10</text>
<text transform="translate(448.29,734.80) scale(1.12,1)" font-size="9.0" fill="#ff0000" stroke="#ff0000" stroke-width="0.22" text-anchor="middle"  letter-spacing="-0.55">15</text>
<text transform="translate(285.00,745.10) scale(0.97,1)" font-size="9.2" fill="#ff0000" stroke="#ff0000" stroke-width="0.22" text-anchor="middle" >Temperature (C)</text>
<line x1="94.50" y1="755.50" x2="475.50" y2="755.50" stroke="#b0b0ff" stroke-width="1" />
<line x1="94.50" y1="755.50" x2="94.50" y2="744.00" stroke="#b0b0ff" stroke-width="1" />
<line x1="113.50" y1="755.50" x2="113.50" y2="750.00" stroke="#b0b0ff" stroke-width="1" />
<line x1="132.50" y1="755.50" x2="132.50" y2="750.00" stroke="#b0b0ff" stroke-width="1" />
<line x1="151.50" y1="755.50" x2="151.50" y2="750.00" stroke="#b0b0ff" stroke-width="1" />
<line x1="170.50" y1="755.50" x2="170.50" y2="750.00" stroke="#b0b0ff" stroke-width="1" />
<line x1="189.50" y1="755.50" x2="189.50" y2="744.00" stroke="#b0b0ff" stroke-width="1" />
<line x1="208.50" y1="755.50" x2="208.50" y2="750.00" stroke="#b0b0ff" stroke-width="1" />
<line x1="227.50" y1="755.50" x2="227.50" y2="750.00" stroke="#b0b0ff" stroke-width="1" />
<line x1="246.50" y1="755.50" x2="246.50" y2="750.00" stroke="#b0b0ff" stroke-width="1" />
<line x1="265.50" y1="755.50" x2="265.50" y2="750.00" stroke="#b0b0ff" stroke-width="1" />
<line x1="285.50" y1="755.50" x2="285.50" y2="744.00" stroke="#b0b0ff" stroke-width="1" />
<line x1="304.50" y1="755.50" x2="304.50" y2="750.00" stroke="#b0b0ff" stroke-width="1" />
<line x1="323.50" y1="755.50" x2="323.50" y2="750.00" stroke="#b0b0ff" stroke-width="1" />
<line x1="342.50" y1="755.50" x2="342.50" y2="750.00" stroke="#b0b0ff" stroke-width="1" />
<line x1="361.50" y1="755.50" x2="361.50" y2="750.00" stroke="#b0b0ff" stroke-width="1" />
<line x1="380.50" y1="755.50" x2="380.50" y2="744.00" stroke="#b0b0ff" stroke-width="1" />
<line x1="399.50" y1="755.50" x2="399.50" y2="750.00" stroke="#b0b0ff" stroke-width="1" />
<line x1="418.50" y1="755.50" x2="418.50" y2="750.00" stroke="#b0b0ff" stroke-width="1" />
<line x1="437.50" y1="755.50" x2="437.50" y2="750.00" stroke="#b0b0ff" stroke-width="1" />
<line x1="456.50" y1="755.50" x2="456.50" y2="750.00" stroke="#b0b0ff" stroke-width="1" />
<line x1="475.50" y1="755.50" x2="475.50" y2="744.00" stroke="#b0b0ff" stroke-width="1" />
<text transform="translate(94.50,765.20) scale(1.12,1)" font-size="9.0" fill="#0000ff" stroke="#0000ff" stroke-width="0.22" text-anchor="middle"  letter-spacing="-0.55">33.0</text>
<text transform="translate(189.75,765.20) scale(1.12,1)" font-size="9.0" fill="#0000ff" stroke="#0000ff" stroke-width="0.22" text-anchor="middle"  letter-spacing="-0.55">33.5</text>
<text transform="translate(285.00,765.20) scale(1.12,1)" font-size="9.0" fill="#0000ff" stroke="#0000ff" stroke-width="0.22" text-anchor="middle"  letter-spacing="-0.55">34.0</text>
<text transform="translate(380.25,765.20) scale(1.12,1)" font-size="9.0" fill="#0000ff" stroke="#0000ff" stroke-width="0.22" text-anchor="middle"  letter-spacing="-0.55">34.5</text>
<text transform="translate(475.50,765.20) scale(1.12,1)" font-size="9.0" fill="#0000ff" stroke="#0000ff" stroke-width="0.22" text-anchor="middle"  letter-spacing="-0.55">35.0</text>
<text transform="translate(285.00,774.50) scale(0.97,1)" font-size="9.2" fill="#0000ff" stroke="#0000ff" stroke-width="0.22" text-anchor="middle" >Salinity (psu)</text>
<line x1="94.50" y1="454.50" x2="102.00" y2="454.50" stroke="#a0a0a0" stroke-width="1" />
<line x1="475.50" y1="454.50" x2="468.00" y2="454.50" stroke="#a0a0a0" stroke-width="1" />
<line x1="94.50" y1="725.50" x2="102.00" y2="725.50" stroke="#a0a0a0" stroke-width="1" />
<line x1="475.50" y1="725.50" x2="468.00" y2="725.50" stroke="#a0a0a0" stroke-width="1" />
<path d="M100.8,609.8h.01M102.1,608.6h.01M103.0,607.4h.01M103.6,606.5h.01M105.0,605.4h.01M105.4,604.9h.01M105.9,603.8h.01M107.1,602.1h.01M107.3,601.0h.01M107.2,599.9h.01M107.2,598.5h.01M106.8,596.9h.01M107.0,595.6h.01M106.9,594.7h.01M106.7,596.0h.01M106.1,597.8h.01M105.4,598.9h.01M104.6,597.8h.01M103.7,596.2h.01M103.2,595.6h.01M102.6,593.0h.01M102.4,591.8h.01M102.8,588.5h.01M103.1,588.0h.01M103.1,586.1h.01M103.1,584.9h.01M103.5,583.2h.01M103.8,582.0h.01M104.8,580.6h.01M104.9,580.0h.01M105.8,578.3h.01M105.9,577.6h.01M107.4,574.9h.01M108.5,574.1h.01M108.7,572.8h.01M109.8,572.0h.01M110.3,570.5h.01M109.9,569.4h.01M110.6,568.0h.01M110.8,566.3h.01M111.6,565.4h.01M112.7,564.7h.01M113.5,563.7h.01M114.8,562.6h.01M115.3,560.2h.01M115.9,558.8h.01M117.0,557.9h.01M116.8,556.3h.01M117.5,555.8h.01M118.0,554.7h.01M118.7,553.2h.01M119.8,552.4h.01M121.1,549.7h.01M122.4,548.8h.01M122.8,547.4h.01M124.3,546.9h.01M125.0,545.8h.01M125.6,544.5h.01M126.5,544.1h.01M128.4,544.4h.01M129.7,543.8h.01M130.3,540.7h.01M130.9,539.8h.01M132.5,537.6h.01M133.3,536.8h.01M136.1,535.1h.01M137.2,534.1h.01M138.2,533.2h.01M139.0,532.4h.01M139.0,530.8h.01M140.7,529.2h.01M142.8,527.1h.01M143.4,526.5h.01M144.8,525.5h.01M146.2,524.6h.01M146.9,523.5h.01M148.4,522.9h.01M149.2,522.9h.01M149.5,521.4h.01M149.4,518.7h.01M150.3,517.7h.01M151.2,517.2h.01M152.5,517.1h.01M154.1,516.4h.01M155.4,516.4h.01M156.7,515.6h.01M158.2,515.5h.01M159.5,515.6h.01M160.6,514.8h.01M161.9,514.2h.01M163.0,514.1h.01M164.6,513.6h.01M165.1,512.8h.01M164.5,510.7h.01M164.3,509.5h.01M164.7,508.6h.01M165.0,505.9h.01M165.7,505.0h.01M167.1,504.2h.01M168.4,504.2h.01M169.2,503.6h.01M170.3,503.0h.01M171.4,502.9h.01M172.8,502.4h.01M174.4,501.6h.01M177.3,500.5h.01M177.8,500.7h.01M179.1,500.1h.01M181.9,499.1h.01M184.9,498.4h.01M186.2,498.3h.01M187.7,498.2h.01M188.2,498.0h.01M190.2,497.3h.01M191.3,497.3h.01M192.2,496.6h.01M193.3,495.5h.01M194.5,494.9h.01M196.1,494.1h.01M196.7,493.4h.01M197.9,492.3h.01M199.3,491.7h.01M200.7,490.9h.01M201.5,490.6h.01M202.6,490.1h.01M204.4,489.3h.01M205.3,489.0h.01M206.2,487.9h.01M207.1,487.8h.01M208.2,486.3h.01M209.9,485.9h.01M210.3,484.7h.01M211.3,484.0h.01M213.0,483.6h.01M213.4,482.7h.01M214.5,480.9h.01M215.6,480.5h.01M216.6,479.1h.01M217.3,478.5h.01M218.4,477.9h.01M220.2,477.9h.01M226.7,477.5h.01M228.4,477.0h.01M229.8,477.1h.01M234.9,476.1h.01M245.0,473.5h.01M246.4,473.8h.01M255.0,475.2h.01M260.2,475.0h.01M261.0,475.0h.01M262.7,474.8h.01M265.1,473.7h.01M270.1,472.5h.01M273.1,471.8h.01M274.2,472.2h.01M278.4,471.2h.01M281.4,470.8h.01M284.9,471.1h.01M288.1,469.0h.01M289.6,467.6h.01M293.4,466.1h.01M297.1,464.3h.01M297.5,463.7h.01M300.1,462.4h.01M301.9,461.4h.01" fill="none" stroke="#00ff00" stroke-width="1.0" stroke-opacity="0.5" stroke-linecap="round"/>
<path d="M138.4,537.4h.01M139.9,535.8h.01M140.3,535.4h.01M141.2,533.8h.01M141.7,532.5h.01M142.8,532.2h.01M143.6,530.8h.01M144.6,530.1h.01M146.2,527.8h.01M147.4,524.5h.01M147.7,523.9h.01M148.1,522.1h.01M149.5,519.9h.01M150.9,519.8h.01M152.0,518.6h.01M152.9,517.8h.01M154.0,517.9h.01M155.2,517.2h.01M157.5,515.3h.01M158.3,514.1h.01M158.7,513.3h.01M159.9,510.6h.01M160.4,509.3h.01M160.8,508.6h.01M161.5,507.1h.01M162.4,504.3h.01M163.1,503.6h.01M164.0,501.6h.01M164.9,501.7h.01M166.1,500.4h.01M167.6,500.6h.01M170.7,498.6h.01M172.5,499.1h.01M173.8,498.6h.01M175.1,497.7h.01M176.1,498.2h.01M177.5,497.2h.01M179.1,497.4h.01M179.9,497.0h.01M181.5,496.4h.01M182.3,495.8h.01M184.2,495.3h.01M185.7,493.3h.01M187.9,491.5h.01M189.3,491.0h.01M190.4,490.6h.01M190.8,489.2h.01M192.4,488.1h.01M193.4,487.5h.01M194.5,486.3h.01M194.9,485.3h.01M195.9,485.1h.01M196.9,483.6h.01M198.3,483.3h.01M199.1,481.8h.01M201.2,480.7h.01M203.3,481.1h.01M204.7,481.3h.01M205.2,481.8h.01M206.3,482.0h.01M207.9,482.1h.01M208.9,482.5h.01M211.0,482.9h.01M212.1,484.1h.01" fill="none" stroke="#00ff00" stroke-width="0.8" stroke-opacity="0.35" stroke-linecap="round"/>
<path d="M309.0,469.5h.01M309.9,469.3h.01M310.9,468.3h.01M311.9,467.3h.01M312.5,465.7h.01M314.3,464.9h.01M315.2,464.0h.01M316.0,463.2h.01M316.5,461.7h.01M316.5,461.0h.01M316.0,458.3h.01M314.7,458.2h.01M313.3,456.5h.01" fill="none" stroke="#00ff00" stroke-width="0.8" stroke-opacity="0.4" stroke-linecap="round"/>
<path d="M101.0,611.9h.01M100.5,611.8h.01M101.4,611.8h.01M102.9,611.5h.01M102.2,611.2h.01M102.3,611.7h.01M103.0,611.0h.01M104.1,611.1h.01M103.0,610.8h.01M102.1,591.9h.01M102.0,591.1h.01M102.5,590.8h.01M102.3,591.1h.01M102.8,589.9h.01M102.1,589.7h.01M102.9,589.1h.01M102.7,589.1h.01M103.0,588.7h.01M102.1,589.8h.01M102.0,589.8h.01M102.0,590.0h.01M105.5,577.8h.01M106.2,577.7h.01M105.9,577.2h.01M106.7,576.9h.01M106.3,576.8h.01M107.0,576.6h.01M106.8,575.8h.01M106.8,577.2h.01M107.0,576.2h.01M106.0,576.3h.01M110.4,568.9h.01M110.0,567.8h.01M110.3,567.4h.01M110.4,567.5h.01M110.7,566.5h.01M111.1,566.8h.01M111.1,565.9h.01M110.0,566.5h.01M111.1,566.4h.01M110.7,567.5h.01M111.6,566.3h.01M111.5,566.2h.01M111.6,565.4h.01M112.3,565.5h.01M112.5,565.4h.01M112.8,566.2h.01M112.6,566.8h.01M112.3,566.3h.01M112.4,565.4h.01M112.2,565.4h.01M113.3,564.8h.01M112.9,564.8h.01M113.9,564.4h.01M113.9,563.9h.01M114.7,563.7h.01M114.4,563.1h.01M114.5,563.1h.01M114.3,565.3h.01M113.9,564.5h.01M113.9,565.4h.01M112.6,565.0h.01M113.2,564.6h.01M113.3,564.1h.01M114.0,564.4h.01M114.0,563.7h.01M114.9,563.8h.01M114.6,562.7h.01M115.4,563.0h.01M115.1,561.8h.01M115.6,561.6h.01M115.7,561.4h.01M115.3,562.9h.01M115.3,563.0h.01M114.6,563.7h.01M115.2,560.6h.01M115.5,560.5h.01M115.6,559.7h.01M115.6,559.8h.01M116.3,558.7h.01M116.2,558.9h.01M115.9,558.6h.01M116.2,558.0h.01M116.8,557.6h.01M116.7,557.0h.01M117.2,556.6h.01M116.4,558.6h.01M116.0,558.1h.01M116.3,558.7h.01M127.7,544.2h.01M128.5,544.2h.01M128.9,543.7h.01M128.7,543.6h.01M129.2,543.6h.01M129.5,543.1h.01M129.3,542.2h.01M129.8,543.5h.01M129.5,543.2h.01M129.5,544.2h.01M125.6,544.1h.01M126.6,544.6h.01M126.6,544.0h.01M127.7,544.0h.01M128.1,544.3h.01M128.4,544.1h.01M128.4,544.1h.01M127.7,543.9h.01M127.2,544.3h.01M128.1,544.1h.01M131.3,539.7h.01M131.3,538.7h.01M131.7,538.3h.01M131.5,537.8h.01M131.9,538.1h.01M132.7,537.8h.01M132.6,537.5h.01M132.9,537.0h.01M133.8,536.6h.01M132.7,537.9h.01M132.2,538.3h.01M131.5,538.4h.01M135.7,535.2h.01M135.7,535.0h.01M135.9,534.7h.01M136.2,534.3h.01M137.0,534.7h.01M137.1,534.0h.01M137.4,534.1h.01M138.1,533.7h.01M138.4,533.1h.01M138.5,532.3h.01M138.4,532.3h.01M137.1,533.9h.01M136.5,534.1h.01M137.4,533.6h.01M140.0,529.5h.01M140.3,529.1h.01M140.7,529.0h.01M141.4,528.3h.01M141.7,528.3h.01M140.3,529.5h.01M140.5,528.6h.01M140.3,529.2h.01M140.9,528.7h.01M140.9,528.7h.01M141.7,528.1h.01M142.1,527.9h.01M142.6,527.9h.01M142.3,527.7h.01M142.5,527.0h.01M143.1,526.5h.01M143.1,526.6h.01M140.7,527.1h.01M142.2,526.6h.01M141.0,527.1h.01M144.1,525.8h.01M144.0,525.6h.01M144.1,525.8h.01M145.1,525.3h.01M144.7,525.1h.01M145.7,524.5h.01M146.1,524.3h.01M146.0,523.8h.01M146.4,523.5h.01M146.9,523.9h.01M147.7,523.8h.01M145.6,524.3h.01M145.4,524.5h.01M145.8,524.6h.01M148.1,523.5h.01M149.0,522.5h.01M149.1,522.4h.01M149.9,522.8h.01M149.4,521.9h.01M149.9,521.5h.01M149.4,521.4h.01M149.3,521.2h.01M149.7,520.8h.01M150.2,522.4h.01M149.7,522.4h.01M148.9,521.8h.01M164.6,508.7h.01M164.2,508.5h.01M164.1,508.3h.01M164.1,507.1h.01M164.2,507.4h.01M164.5,506.3h.01M164.3,505.8h.01M164.7,507.8h.01M164.7,507.9h.01M163.7,507.7h.01M164.6,511.5h.01M164.8,510.8h.01M165.1,510.4h.01M164.9,509.6h.01M164.4,509.0h.01M164.1,509.2h.01M164.9,508.6h.01M164.1,508.2h.01M164.5,507.5h.01M164.0,509.9h.01M164.8,509.3h.01M164.3,509.2h.01M171.2,502.8h.01M172.1,502.7h.01M172.2,503.2h.01M172.8,502.9h.01M173.3,502.1h.01M173.5,502.3h.01M174.3,502.0h.01M174.6,502.0h.01M174.6,502.1h.01M172.5,502.9h.01M172.7,501.9h.01M172.7,502.8h.01M174.4,501.8h.01M175.2,501.9h.01M175.4,501.4h.01M175.9,501.6h.01M176.3,501.5h.01M175.2,501.2h.01M175.8,501.5h.01M174.9,501.7h.01M176.9,501.3h.01M177.4,500.4h.01M177.6,500.2h.01M178.6,500.8h.01M178.8,500.3h.01M177.8,500.4h.01M177.3,500.5h.01M177.7,500.2h.01M199.6,491.7h.01M199.7,491.9h.01M200.0,491.1h.01M200.4,491.3h.01M201.1,491.0h.01M201.2,490.7h.01M201.5,490.8h.01M200.0,490.9h.01M200.1,491.4h.01M200.7,491.2h.01M200.1,491.4h.01M201.0,490.7h.01M200.8,490.6h.01M201.4,490.7h.01M201.6,490.3h.01M202.1,490.7h.01M202.9,489.7h.01M203.6,489.5h.01M203.4,490.1h.01M202.5,490.8h.01M201.9,490.1h.01M202.2,490.0h.01M206.3,488.4h.01M205.9,488.6h.01M206.7,487.8h.01M207.6,487.7h.01M207.1,487.3h.01M208.1,486.8h.01M208.0,487.3h.01M207.4,488.0h.01M207.3,488.3h.01M207.4,488.1h.01M213.5,482.7h.01M213.6,482.1h.01M214.1,481.6h.01M214.2,481.9h.01M214.8,481.5h.01M214.8,481.0h.01M215.3,480.9h.01M214.3,481.8h.01M215.1,481.2h.01M214.6,481.9h.01M211.6,484.7h.01M211.2,483.8h.01M211.7,483.9h.01M212.7,483.2h.01M212.5,483.5h.01M212.9,482.6h.01M213.3,482.1h.01M213.9,482.1h.01M213.8,482.2h.01M214.3,482.1h.01M214.4,481.4h.01M213.7,483.1h.01M213.2,483.0h.01M212.6,482.7h.01" fill="none" stroke="#00ff00" stroke-width="1.25" stroke-opacity="1" stroke-linecap="round"/>
<path d="M331.5,460.3h.01M335.1,458.1h.01M351.3,460.3h.01M362.4,459.1h.01M370.4,458.5h.01M320.0,457.0h.01M331.0,457.5h.01M334.0,459.0h.01M332.0,462.5h.01M322.0,456.8h.01" fill="none" stroke="#00ff00" stroke-width="1.0" stroke-opacity="0.7" stroke-linecap="round"/>
<path d="M172.0,611.6h.01M173.1,610.3h.01M173.2,609.1h.01M175.6,604.7h.01M176.6,603.1h.01M177.1,602.7h.01M177.5,601.7h.01M177.8,600.9h.01M178.5,599.7h.01M179.1,598.2h.01M179.5,597.9h.01M179.8,596.7h.01M180.1,595.6h.01M180.6,594.5h.01M181.4,593.1h.01M181.3,592.0h.01M181.6,591.7h.01M182.0,590.4h.01M182.3,588.9h.01M183.2,588.4h.01M184.1,586.6h.01M184.5,585.4h.01M185.3,584.8h.01M186.0,583.5h.01M185.9,582.4h.01M186.2,581.7h.01M186.7,580.1h.01M187.8,579.4h.01M188.0,578.8h.01M188.2,577.2h.01M189.2,576.2h.01M189.7,575.6h.01M190.1,574.5h.01M190.9,572.6h.01M191.3,571.3h.01M192.8,571.1h.01M193.3,570.5h.01M194.0,569.6h.01M194.8,569.2h.01M196.3,568.5h.01M197.8,567.0h.01M198.4,566.3h.01M199.1,565.9h.01M200.2,563.7h.01M200.8,563.0h.01M202.2,561.6h.01M203.3,560.2h.01M203.8,559.0h.01M204.8,558.5h.01M204.7,557.5h.01M205.6,556.3h.01M206.4,556.0h.01M206.4,554.9h.01M207.2,554.0h.01M208.3,552.3h.01M209.6,550.7h.01M210.2,550.6h.01M210.4,549.1h.01M211.7,549.2h.01M212.5,548.3h.01M213.2,547.5h.01M213.7,546.7h.01M215.3,545.9h.01M215.9,545.1h.01M216.7,545.0h.01M217.7,543.9h.01M219.2,544.3h.01M219.5,543.6h.01M220.5,542.7h.01M221.2,541.6h.01M221.4,540.4h.01M221.5,539.8h.01M222.2,539.0h.01M223.0,536.7h.01M225.2,535.6h.01M226.1,535.4h.01M226.9,534.1h.01M227.9,532.0h.01M229.4,530.1h.01M229.5,529.7h.01M229.8,528.7h.01M230.4,527.6h.01M231.4,526.7h.01M231.8,524.3h.01M233.0,524.3h.01M233.9,523.5h.01M234.8,523.3h.01M235.9,522.8h.01M237.5,522.9h.01M237.5,521.8h.01M237.5,519.1h.01M238.2,518.2h.01M238.9,517.6h.01M240.1,517.2h.01M241.2,515.7h.01M242.8,515.0h.01M243.0,514.2h.01M243.8,513.0h.01M244.7,512.3h.01M245.2,511.8h.01M245.7,510.5h.01M245.8,509.8h.01M246.6,509.0h.01M247.0,507.7h.01M247.3,505.2h.01M247.6,504.6h.01M248.6,504.0h.01M251.0,503.0h.01M252.5,502.1h.01M253.9,501.3h.01M254.5,501.4h.01M255.0,499.7h.01M256.4,499.4h.01M257.3,498.9h.01M258.1,498.0h.01M258.4,496.8h.01M259.7,496.3h.01M260.4,495.4h.01M261.1,494.4h.01M263.9,493.0h.01M265.9,493.0h.01M266.8,491.9h.01M267.2,491.2h.01M268.5,490.6h.01M269.2,489.8h.01M269.9,489.0h.01M271.0,488.7h.01M272.7,487.1h.01M273.4,485.7h.01M273.8,485.5h.01M275.1,484.9h.01M275.1,483.4h.01M277.0,482.1h.01M277.9,481.9h.01M278.9,481.4h.01M279.6,480.4h.01M280.4,479.9h.01M282.0,479.1h.01M282.6,478.7h.01M283.7,478.5h.01M285.1,478.0h.01M285.4,477.9h.01M287.5,476.4h.01M288.3,475.8h.01M289.5,475.5h.01M290.1,474.2h.01M290.8,473.4h.01M291.9,472.5h.01M291.9,471.8h.01M292.8,471.5h.01M293.8,470.3h.01M295.3,470.4h.01M296.2,469.2h.01M297.0,469.0h.01M297.7,467.9h.01M298.8,468.1h.01M299.7,467.1h.01M300.8,467.0h.01M301.4,466.1h.01M302.5,465.0h.01M303.6,464.1h.01M304.1,464.1h.01M305.2,463.5h.01M305.6,462.2h.01M307.0,462.0h.01M307.6,461.5h.01M308.1,460.7h.01M308.9,460.3h.01M310.2,459.5h.01M311.2,459.6h.01M313.0,459.2h.01M313.9,459.4h.01M314.9,459.5h.01M315.9,459.3h.01M316.7,459.1h.01M318.2,459.4h.01M318.9,459.4h.01M320.1,458.7h.01M321.4,458.8h.01M322.0,458.9h.01M323.6,458.4h.01M324.9,457.4h.01M325.3,457.6h.01M326.7,456.8h.01" fill="none" stroke="#ff0000" stroke-width="1.0" stroke-opacity="0.55" stroke-linecap="round"/>
<path d="M173.9,610.1h.01M174.3,609.0h.01M175.5,607.7h.01M175.5,606.1h.01M176.1,605.3h.01M176.9,603.9h.01M177.8,602.0h.01M179.8,599.2h.01M180.8,597.0h.01M180.9,595.2h.01M181.6,593.9h.01M182.3,592.8h.01M183.5,592.3h.01M184.3,589.9h.01M184.9,588.6h.01M185.9,586.1h.01M186.5,584.6h.01M187.0,583.3h.01M187.8,582.6h.01M188.6,581.4h.01M189.1,579.6h.01M190.3,578.6h.01M191.7,576.2h.01M191.7,575.5h.01M192.2,573.6h.01M193.3,572.7h.01M193.9,572.0h.01M195.0,570.7h.01M197.0,568.6h.01M197.2,567.4h.01M198.3,567.0h.01M199.7,566.1h.01M201.3,563.8h.01M202.1,562.4h.01M203.1,561.4h.01M204.4,560.4h.01M204.7,559.9h.01M206.1,559.0h.01M206.6,557.7h.01M207.7,556.9h.01M208.8,556.2h.01M209.3,554.9h.01M210.3,553.7h.01M211.6,552.7h.01M212.9,550.7h.01M216.6,547.3h.01M217.8,545.7h.01M218.6,545.2h.01M219.5,543.9h.01M220.6,542.9h.01M221.0,541.7h.01M222.3,541.1h.01M223.9,538.9h.01M225.3,538.4h.01M226.2,537.2h.01M227.1,536.4h.01M228.4,535.8h.01M229.6,535.5h.01M231.6,533.4h.01M232.2,531.9h.01M232.9,529.9h.01M234.1,528.8h.01M234.9,527.1h.01M235.7,526.5h.01M236.6,523.7h.01M237.4,523.3h.01M238.8,522.3h.01M238.8,520.5h.01M239.6,519.7h.01M240.2,518.1h.01M242.0,516.1h.01M242.9,515.2h.01M243.1,513.6h.01M243.7,512.8h.01M245.9,509.4h.01M246.7,508.0h.01M247.2,506.5h.01M248.0,505.4h.01M248.6,504.1h.01M250.1,502.0h.01M252.3,498.8h.01M252.8,497.5h.01M253.6,497.1h.01M254.8,495.8h.01M256.5,495.0h.01M257.1,494.7h.01M258.4,493.9h.01M259.7,492.7h.01M260.4,491.7h.01M261.2,490.5h.01M262.2,489.8h.01M263.6,489.5h.01M264.5,488.6h.01M265.5,487.3h.01M266.7,486.7h.01M267.6,485.5h.01M270.3,484.7h.01M270.9,483.9h.01M272.0,482.7h.01M273.4,482.1h.01M274.6,481.4h.01M275.0,480.6h.01M276.1,479.8h.01M277.9,478.6h.01M279.1,477.8h.01M281.3,476.4h.01M281.8,475.7h.01M283.2,475.0h.01M284.4,474.5h.01M285.8,474.0h.01M286.5,473.1h.01M288.1,471.6h.01M288.8,471.7h.01M290.2,470.1h.01M290.8,469.8h.01M292.2,468.8h.01M293.1,468.3h.01M294.5,467.3h.01M295.7,466.5h.01M296.0,466.0h.01" fill="none" stroke="#ff0000" stroke-width="0.8" stroke-opacity="0.3" stroke-linecap="round"/>
<path d="M172.6,611.3h.01M173.0,610.4h.01M173.0,610.5h.01M173.4,610.3h.01M173.3,609.8h.01M173.8,609.4h.01M171.1,611.0h.01M172.2,611.0h.01M172.5,611.1h.01M172.8,611.3h.01M172.4,610.8h.01M172.7,610.8h.01M173.0,609.9h.01M173.2,609.8h.01M173.7,609.3h.01M173.6,609.0h.01M172.5,611.4h.01M173.6,611.5h.01M173.0,610.8h.01M181.5,591.0h.01M182.2,590.6h.01M181.9,590.9h.01M182.0,589.9h.01M182.1,589.7h.01M182.3,589.4h.01M182.9,588.8h.01M183.3,588.0h.01M183.4,587.7h.01M182.6,589.9h.01M181.8,589.9h.01M182.5,589.4h.01M188.1,578.6h.01M188.0,578.1h.01M188.5,577.5h.01M188.9,577.4h.01M188.5,576.5h.01M188.3,577.0h.01M187.8,577.1h.01M188.0,577.6h.01M196.5,568.1h.01M196.4,568.3h.01M196.6,568.0h.01M196.8,567.7h.01M198.0,567.4h.01M198.2,567.1h.01M198.5,566.7h.01M198.6,566.9h.01M198.8,566.4h.01M198.9,565.6h.01M198.9,565.2h.01M198.3,567.4h.01M198.4,567.3h.01M197.4,567.4h.01M198.8,566.8h.01M198.6,565.9h.01M199.1,566.1h.01M199.7,565.1h.01M199.8,565.3h.01M199.4,565.8h.01M198.5,566.4h.01M198.7,565.8h.01M200.3,564.1h.01M199.9,563.6h.01M200.8,563.9h.01M201.3,563.1h.01M200.7,562.6h.01M201.3,562.7h.01M202.1,562.2h.01M202.0,561.5h.01M202.0,561.1h.01M201.2,562.8h.01M201.8,563.3h.01M201.0,562.6h.01M202.4,561.0h.01M203.4,560.7h.01M203.3,559.9h.01M203.8,559.7h.01M203.9,559.2h.01M204.1,559.1h.01M204.7,559.0h.01M204.4,558.0h.01M204.9,557.9h.01M203.8,558.9h.01M203.3,559.1h.01M203.9,559.9h.01M202.4,562.2h.01M202.3,561.7h.01M202.1,561.2h.01M202.9,560.6h.01M203.2,560.8h.01M203.4,560.2h.01M203.5,559.6h.01M203.6,560.2h.01M202.5,561.0h.01M202.9,560.3h.01M218.5,544.5h.01M218.7,543.7h.01M219.2,543.6h.01M219.5,544.1h.01M219.9,543.7h.01M220.0,543.3h.01M220.6,542.3h.01M220.8,542.4h.01M220.6,541.8h.01M220.2,543.7h.01M220.5,544.0h.01M220.2,543.9h.01M218.3,543.9h.01M218.4,544.1h.01M219.2,544.3h.01M219.4,544.2h.01M219.7,543.6h.01M219.1,543.9h.01M219.5,543.4h.01M218.8,543.3h.01M221.9,539.3h.01M221.6,539.2h.01M221.6,539.0h.01M221.9,538.3h.01M222.5,538.0h.01M223.0,537.8h.01M223.3,537.5h.01M223.7,537.5h.01M223.4,537.1h.01M222.1,538.2h.01M222.7,538.3h.01M221.8,537.7h.01M229.0,530.3h.01M229.1,530.0h.01M229.3,530.2h.01M229.1,530.0h.01M229.8,529.0h.01M229.6,528.7h.01M230.4,528.5h.01M230.0,527.6h.01M230.2,527.9h.01M229.2,529.2h.01M229.4,529.3h.01M229.5,528.7h.01M229.7,529.4h.01M230.2,529.2h.01M229.7,528.3h.01M230.0,528.0h.01M230.9,527.9h.01M230.3,526.9h.01M231.3,527.0h.01M231.1,526.4h.01M231.1,526.4h.01M230.3,527.9h.01M230.7,527.0h.01M230.2,527.2h.01M232.0,524.9h.01M231.8,524.8h.01M232.3,524.6h.01M232.4,524.0h.01M232.5,524.0h.01M233.2,523.4h.01M233.8,524.1h.01M231.9,523.6h.01M232.9,523.7h.01M232.2,524.0h.01M232.4,524.2h.01M233.0,523.6h.01M233.5,524.2h.01M234.2,523.3h.01M234.0,523.5h.01M234.7,523.0h.01M235.3,523.5h.01M235.3,523.4h.01M235.6,522.6h.01M234.7,522.8h.01M233.8,523.4h.01M233.6,523.4h.01M244.3,512.9h.01M244.9,512.7h.01M245.3,512.1h.01M245.7,512.0h.01M246.1,511.1h.01M245.6,511.4h.01M246.1,510.5h.01M245.9,510.4h.01M246.4,509.8h.01M245.8,509.5h.01M246.0,508.9h.01M246.2,511.8h.01M245.2,510.8h.01M246.6,511.3h.01M245.8,511.9h.01M245.8,511.3h.01M245.9,510.9h.01M245.6,510.1h.01M246.4,509.5h.01M245.9,508.8h.01M246.0,508.6h.01M246.6,508.2h.01M246.4,507.7h.01M246.2,510.0h.01M246.2,509.2h.01M246.4,510.2h.01M252.7,502.3h.01M253.9,501.7h.01M253.6,501.3h.01M254.3,501.7h.01M254.7,501.4h.01M253.6,501.3h.01M254.5,501.7h.01M253.9,501.7h.01M253.2,502.1h.01M254.2,501.2h.01M254.4,501.6h.01M255.0,500.9h.01M255.3,501.0h.01M254.8,500.2h.01M255.7,499.9h.01M255.8,499.9h.01M256.5,499.1h.01M253.7,499.7h.01M254.5,500.4h.01M254.3,499.8h.01M264.7,493.2h.01M265.1,493.2h.01M265.6,492.7h.01M266.1,492.6h.01M266.5,492.9h.01M267.0,492.2h.01M267.3,492.5h.01M267.3,491.6h.01M267.7,491.8h.01M265.9,492.0h.01M266.5,492.8h.01M266.9,492.4h.01M266.9,492.5h.01M267.7,491.9h.01M267.3,491.5h.01M267.7,491.4h.01M268.1,490.9h.01M268.8,490.8h.01M269.3,490.5h.01M268.4,491.2h.01M267.8,491.5h.01M267.9,491.6h.01M269.4,489.7h.01M269.8,489.5h.01M269.7,489.6h.01M269.9,489.1h.01M270.1,488.7h.01M270.8,488.6h.01M270.8,488.0h.01M270.0,489.5h.01M270.8,489.2h.01M269.7,488.7h.01M270.4,488.7h.01M270.4,488.4h.01M270.8,488.1h.01M271.5,487.9h.01M271.9,487.9h.01M271.8,487.7h.01M272.4,487.4h.01M272.1,486.5h.01M272.4,485.9h.01M272.4,487.9h.01M271.5,488.3h.01M272.5,487.9h.01M277.8,481.9h.01M278.2,481.8h.01M278.4,481.9h.01M278.3,481.7h.01M279.4,480.9h.01M277.4,481.1h.01M279.0,481.0h.01M278.9,481.2h.01M278.2,481.1h.01M279.1,480.7h.01M279.2,481.2h.01M279.9,481.0h.01M280.5,480.0h.01M280.2,480.4h.01M281.0,479.5h.01M281.2,479.4h.01M281.5,479.0h.01M279.2,481.1h.01M279.7,481.0h.01M279.4,480.5h.01M281.6,478.9h.01M281.7,479.2h.01M282.4,478.9h.01M283.1,478.7h.01M283.4,478.9h.01M283.2,478.8h.01M284.3,478.7h.01M282.2,478.2h.01M282.9,478.1h.01M282.2,479.3h.01" fill="none" stroke="#ff0000" stroke-width="1.25" stroke-opacity="1" stroke-linecap="round"/>
<rect x="325.5" y="456" width="2.5" height="1.4" fill="#a05010"/>
<path d="M211.1,463.5h.01M213.8,464.0h.01M214.9,464.8h.01M216.9,465.2h.01M217.8,464.9h.01M218.9,465.1h.01M225.1,467.6h.01M233.0,468.8h.01M235.5,470.4h.01M236.9,470.1h.01M239.5,469.6h.01M240.7,469.3h.01M243.6,470.1h.01M244.9,470.5h.01M246.1,470.8h.01M246.8,472.6h.01M247.2,473.6h.01M248.1,474.4h.01M250.0,474.5h.01M250.6,475.1h.01M251.9,476.1h.01M253.4,476.1h.01M256.1,476.7h.01M257.2,476.6h.01M258.5,476.4h.01M259.8,476.8h.01M261.0,477.2h.01M262.3,477.5h.01M263.9,478.2h.01M265.0,478.0h.01M266.3,479.0h.01M267.5,479.8h.01M268.7,479.7h.01M270.0,480.6h.01M271.5,481.1h.01M272.0,482.3h.01M272.5,483.0h.01M274.7,485.9h.01M275.1,486.2h.01M276.4,487.7h.01M276.5,488.6h.01M277.1,490.1h.01M279.3,491.5h.01M280.7,492.3h.01M281.4,493.3h.01M284.0,494.5h.01M285.3,495.8h.01M286.5,496.1h.01M287.0,496.8h.01M287.6,497.8h.01M289.1,499.4h.01M289.8,499.9h.01M290.6,501.3h.01M291.6,501.8h.01M292.9,502.5h.01M294.0,503.1h.01M295.2,504.3h.01M295.1,505.3h.01M295.9,506.6h.01M296.5,507.8h.01M296.3,509.0h.01M296.5,510.6h.01M296.8,512.2h.01M296.5,513.3h.01M297.1,514.5h.01M297.6,515.8h.01M300.4,516.7h.01M301.5,519.3h.01M302.0,520.0h.01M302.4,522.0h.01M302.0,523.0h.01M302.5,524.8h.01M303.1,525.8h.01M303.5,526.6h.01M303.9,527.8h.01M305.0,529.4h.01M305.3,530.9h.01M305.2,532.1h.01M306.1,533.3h.01M306.5,534.7h.01M307.0,535.4h.01M307.4,536.5h.01M308.8,537.8h.01M309.6,539.4h.01M309.4,540.2h.01M310.5,541.8h.01M310.7,542.7h.01M311.1,543.8h.01M312.2,546.8h.01M312.8,547.4h.01M314.0,548.5h.01M314.1,549.8h.01M314.5,551.0h.01M315.2,552.5h.01M315.6,553.7h.01M316.7,555.3h.01M317.2,557.3h.01M318.1,558.4h.01M318.6,560.2h.01M319.1,562.6h.01M319.3,563.5h.01M320.1,564.7h.01M321.0,566.0h.01M321.3,567.6h.01M322.7,568.3h.01M323.0,569.1h.01M323.7,570.1h.01M324.9,571.8h.01M326.0,572.3h.01M326.7,573.7h.01M326.8,574.5h.01M328.2,575.9h.01M328.3,577.0h.01M329.1,578.5h.01M329.7,579.7h.01M330.3,581.3h.01M331.1,582.5h.01M332.3,584.3h.01M332.6,585.3h.01M333.8,586.6h.01M334.0,587.7h.01M335.5,589.1h.01M335.2,590.4h.01M336.0,591.4h.01M336.3,593.0h.01M336.7,593.9h.01M336.3,595.4h.01M336.7,596.8h.01M337.7,598.3h.01M337.8,599.8h.01M338.1,600.9h.01M339.1,601.6h.01M339.8,602.9h.01M340.8,605.3h.01M341.7,606.4h.01M341.9,607.6h.01M342.3,609.5h.01M343.3,610.2h.01M344.4,611.3h.01" fill="none" stroke="#0000ff" stroke-width="1.0" stroke-opacity="0.55" stroke-linecap="round"/>
<path d="M267.2,478.9h.01M268.1,479.6h.01M269.1,480.1h.01M270.8,480.6h.01M271.9,482.0h.01M273.1,482.4h.01M274.2,482.7h.01M275.2,484.3h.01M275.6,485.1h.01M277.1,486.1h.01M279.7,488.9h.01M280.8,489.7h.01M282.0,490.4h.01M283.0,491.6h.01M284.8,492.8h.01M286.4,494.2h.01M287.0,494.5h.01M288.2,495.1h.01M289.2,495.9h.01M290.7,496.9h.01M292.4,498.6h.01M293.6,499.5h.01M295.0,501.4h.01M295.8,503.1h.01M297.3,505.3h.01" fill="none" stroke="#0000ff" stroke-width="0.8" stroke-opacity="0.35" stroke-linecap="round"/>
<path d="M245.3,471.3h.01M245.3,470.6h.01M246.1,470.9h.01M245.9,471.5h.01M246.5,472.0h.01M246.8,472.6h.01M247.1,472.8h.01M246.3,470.9h.01M246.4,471.0h.01M245.9,471.3h.01M245.7,471.6h.01M246.0,471.6h.01M246.5,471.7h.01M246.7,472.4h.01M247.3,472.6h.01M247.1,473.4h.01M247.1,473.6h.01M247.9,473.7h.01M247.9,474.2h.01M247.6,472.6h.01M247.4,471.7h.01M246.7,471.9h.01M263.9,478.2h.01M264.7,477.8h.01M264.9,478.6h.01M265.6,478.3h.01M266.1,478.5h.01M266.3,478.8h.01M267.1,479.2h.01M267.4,479.5h.01M267.4,479.9h.01M266.2,478.9h.01M265.5,478.3h.01M266.0,479.1h.01M266.2,478.4h.01M266.6,478.5h.01M266.5,479.1h.01M267.2,479.7h.01M267.6,479.9h.01M268.1,479.6h.01M268.5,479.7h.01M269.0,480.1h.01M269.2,480.7h.01M267.3,479.7h.01M267.3,479.3h.01M268.0,479.5h.01M270.4,481.5h.01M271.0,481.6h.01M271.6,481.8h.01M271.6,481.6h.01M272.3,482.2h.01M271.7,481.8h.01M272.0,481.3h.01M271.4,482.1h.01M272.1,481.5h.01M272.0,481.8h.01M272.3,482.8h.01M272.4,483.1h.01M272.7,483.8h.01M273.4,484.0h.01M273.0,484.2h.01M273.9,484.7h.01M274.1,485.2h.01M272.5,482.6h.01M273.4,483.3h.01M272.4,482.9h.01M277.1,489.6h.01M277.3,490.3h.01M277.9,490.1h.01M278.1,490.7h.01M278.5,490.9h.01M278.3,491.6h.01M279.3,491.3h.01M278.8,492.0h.01M279.4,492.1h.01M277.7,491.5h.01M278.7,491.4h.01M278.8,490.8h.01M276.6,488.7h.01M276.7,489.2h.01M277.3,489.5h.01M277.5,489.8h.01M277.8,489.7h.01M277.8,490.6h.01M278.0,490.6h.01M276.3,489.6h.01M277.5,489.2h.01M276.5,489.2h.01M278.8,491.7h.01M279.6,491.5h.01M279.2,492.2h.01M279.7,492.8h.01M280.1,492.6h.01M279.9,492.4h.01M279.5,493.1h.01M279.6,492.6h.01M290.5,501.2h.01M290.9,501.0h.01M291.7,501.4h.01M291.8,501.9h.01M292.1,502.3h.01M291.0,501.9h.01M292.0,501.5h.01M290.7,501.8h.01M290.0,499.5h.01M289.9,500.4h.01M290.1,499.9h.01M290.3,500.5h.01M291.4,500.9h.01M290.6,500.8h.01M289.6,500.1h.01M290.4,500.5h.01M295.5,507.2h.01M295.6,507.6h.01M296.2,508.2h.01M296.1,508.4h.01M295.9,508.9h.01M296.0,509.1h.01M296.5,509.9h.01M296.2,510.0h.01M296.5,510.5h.01M295.8,508.9h.01M296.5,509.4h.01M296.6,509.3h.01M295.2,505.6h.01M295.2,506.6h.01M296.0,506.9h.01M295.6,507.0h.01M295.6,507.7h.01M297.1,506.3h.01M295.6,506.1h.01M296.1,507.0h.01M296.3,507.9h.01M296.5,508.4h.01M296.6,508.9h.01M295.9,509.2h.01M296.1,510.2h.01M296.7,510.6h.01M296.4,510.5h.01M296.3,511.1h.01M296.5,512.0h.01M296.2,511.9h.01M296.8,512.5h.01M296.7,510.8h.01M295.8,511.0h.01M296.2,510.1h.01M301.9,522.7h.01M302.1,522.6h.01M302.7,523.8h.01M302.5,523.5h.01M303.1,524.4h.01M301.6,523.1h.01M302.5,523.8h.01M302.3,523.5h.01M301.2,519.7h.01M301.6,520.8h.01M301.5,521.2h.01M302.3,521.3h.01M302.1,522.1h.01M302.3,522.6h.01M302.4,522.7h.01M302.2,521.9h.01M301.3,521.7h.01M302.4,522.1h.01M302.6,523.5h.01M302.2,524.3h.01M302.8,523.9h.01M302.7,525.2h.01M302.8,525.1h.01M303.5,525.9h.01M303.5,526.2h.01M303.1,526.1h.01M304.2,527.1h.01M303.5,526.9h.01M303.8,528.1h.01M302.9,525.7h.01M304.0,525.7h.01M304.0,525.2h.01M304.0,527.7h.01M304.6,528.3h.01M304.7,528.2h.01M304.3,529.0h.01M304.8,529.2h.01M304.8,530.2h.01M304.9,530.6h.01M303.9,528.4h.01M304.8,528.5h.01M304.7,529.1h.01M305.1,530.4h.01M305.2,530.6h.01M305.4,531.1h.01M305.1,531.2h.01M305.5,532.3h.01M304.5,531.2h.01M305.4,531.2h.01M305.8,531.1h.01M308.6,537.7h.01M308.5,538.4h.01M309.4,538.9h.01M308.9,538.9h.01M309.3,539.6h.01M308.6,538.8h.01M310.0,539.0h.01M308.4,538.2h.01M310.9,543.5h.01M310.6,543.6h.01M311.4,544.5h.01M311.3,544.2h.01M311.7,545.1h.01M310.2,543.3h.01M310.2,544.2h.01M311.2,543.5h.01M309.7,539.0h.01M309.7,539.6h.01M309.5,539.9h.01M310.1,541.0h.01M309.6,541.0h.01M309.8,541.2h.01M310.7,542.1h.01M310.4,542.5h.01M310.8,543.0h.01M310.5,543.5h.01M310.4,543.7h.01M309.7,541.6h.01M309.8,541.9h.01M309.2,541.8h.01M318.2,559.0h.01M318.0,558.8h.01M318.5,559.4h.01M318.4,559.9h.01M318.5,560.8h.01M318.3,560.8h.01M318.9,561.3h.01M319.0,559.8h.01M319.0,560.1h.01M319.0,559.4h.01M316.8,556.8h.01M317.6,557.2h.01M317.3,557.1h.01M318.0,558.0h.01M317.8,558.0h.01M318.3,558.5h.01M317.9,559.0h.01M318.3,557.5h.01M318.2,558.2h.01M317.8,558.2h.01M319.7,563.4h.01M319.9,563.6h.01M319.5,563.8h.01M319.6,564.5h.01M320.0,564.6h.01M320.5,565.8h.01M320.9,565.6h.01M320.4,564.1h.01M319.4,564.3h.01M319.9,564.7h.01M318.9,560.7h.01M319.0,560.8h.01M318.6,561.0h.01M318.9,561.9h.01M318.8,561.8h.01M319.1,562.4h.01M319.5,563.2h.01M319.2,563.0h.01M320.0,563.9h.01M319.7,564.0h.01M319.7,564.6h.01M319.7,561.8h.01M318.8,561.8h.01M319.3,561.8h.01M320.3,566.1h.01M320.7,566.6h.01M321.1,566.7h.01M321.1,567.2h.01M321.5,567.2h.01M322.0,567.3h.01M322.0,568.3h.01M322.3,568.3h.01M323.0,568.5h.01M321.2,567.0h.01M321.5,567.1h.01M321.9,567.3h.01M327.8,576.6h.01M328.7,576.6h.01M328.3,577.2h.01M328.6,577.6h.01M329.3,577.7h.01M328.2,577.4h.01M328.3,577.1h.01M328.7,576.9h.01M334.8,589.1h.01M335.0,589.4h.01M335.0,589.9h.01M335.5,590.1h.01M335.7,591.2h.01M336.1,589.6h.01M334.7,589.6h.01M334.7,589.7h.01M342.5,608.7h.01M342.8,609.9h.01M343.2,610.1h.01M343.1,610.2h.01M343.5,610.4h.01M344.1,610.9h.01M343.7,611.6h.01M342.5,610.8h.01M341.7,611.4h.01M342.5,610.6h.01M343.1,609.1h.01M343.3,610.1h.01M343.6,609.9h.01M343.5,610.6h.01M344.3,610.9h.01M343.6,611.5h.01M344.3,611.4h.01M344.3,610.6h.01M343.9,611.5h.01M342.7,609.1h.01M343.1,609.6h.01M343.2,610.5h.01M343.7,611.1h.01M343.8,611.2h.01M343.6,611.6h.01M345.1,611.2h.01M345.5,611.7h.01M345.5,611.8h.01" fill="none" stroke="#0000ff" stroke-width="1.25" stroke-opacity="1" stroke-linecap="round"/>
<path d="M126.8,456.8h.01M128.5,456.8h.01M130.4,456.8h.01M127.5,457.8h.01M135.8,458.4h.01M138.5,460.4h.01M156.5,461.1h.01M172.3,460.4h.01M192.8,462.2h.01M193.1,462.5h.01" fill="none" stroke="#0000ff" stroke-width="1.0" stroke-opacity="0.6" stroke-linecap="round"/>
<path d="M338.5,461.3h.01M340.6,461.3h.01M341.8,461.4h.01M342.6,462.0h.01M344.0,461.9h.01M344.9,462.6h.01M346.7,462.6h.01M347.8,462.3h.01M349.8,462.2h.01M350.8,462.6h.01M352.9,463.3h.01M354.3,464.2h.01M357.0,466.1h.01M358.2,466.4h.01M359.3,466.8h.01M359.9,467.7h.01M362.9,471.1h.01M363.9,471.8h.01M364.4,473.0h.01M366.0,474.0h.01M367.4,475.6h.01M368.6,476.3h.01M369.9,475.8h.01M371.6,475.2h.01M372.8,475.4h.01M373.9,476.0h.01M374.7,477.6h.01M375.2,478.9h.01M376.1,479.4h.01M376.6,482.6h.01M377.4,484.7h.01M378.1,485.6h.01M378.2,486.9h.01M378.8,488.3h.01M379.4,489.6h.01M380.7,492.2h.01M380.8,493.3h.01M381.5,494.3h.01M382.0,496.2h.01M381.8,497.4h.01M381.5,498.2h.01M380.3,499.5h.01M380.0,501.2h.01M379.4,503.0h.01M380.2,504.5h.01M379.9,505.7h.01M380.3,507.1h.01M381.3,509.0h.01M380.9,510.3h.01M381.3,512.7h.01M380.9,513.8h.01M379.8,514.5h.01M378.9,516.0h.01M378.2,517.2h.01M377.7,518.1h.01M377.7,519.4h.01M376.6,520.8h.01M376.6,521.7h.01M376.2,522.8h.01M375.8,524.7h.01M376.5,525.6h.01M376.5,527.3h.01M376.3,528.6h.01M376.7,529.6h.01M376.5,531.3h.01M376.2,532.8h.01M376.4,534.1h.01M376.7,535.6h.01M376.4,536.8h.01M376.3,537.7h.01M376.9,539.5h.01M376.4,541.9h.01M376.2,543.5h.01M376.1,544.7h.01M376.9,546.4h.01M376.1,547.1h.01M376.4,548.7h.01M376.3,550.4h.01M375.8,551.4h.01M375.7,553.0h.01M375.6,554.1h.01M375.8,555.4h.01M375.7,557.2h.01M374.8,558.1h.01M374.5,559.0h.01M372.9,563.1h.01M372.9,564.5h.01M373.6,565.2h.01M373.5,567.3h.01M373.1,568.4h.01M372.4,569.0h.01M372.3,570.9h.01M371.4,572.1h.01M371.0,572.7h.01M371.3,573.9h.01M371.8,575.7h.01M373.4,577.8h.01M373.1,579.2h.01M373.0,580.1h.01M373.9,582.9h.01M373.6,584.4h.01M374.6,586.9h.01M374.7,588.2h.01M374.7,590.0h.01M374.5,592.6h.01M375.4,594.2h.01M375.4,594.9h.01" fill="none" stroke="#00ffff" stroke-width="1.1" stroke-opacity="0.6" stroke-linecap="round"/>
<path d="M375.0,594.5h.01M373.8,594.8h.01M373.0,595.6h.01M371.8,596.5h.01M370.6,597.1h.01M367.9,598.2h.01M366.6,597.8h.01M365.0,597.3h.01M364.4,596.6h.01M363.2,596.4h.01M362.0,595.7h.01M360.6,594.5h.01M358.1,593.8h.01M357.6,595.4h.01M356.5,596.0h.01M355.7,596.9h.01M355.2,598.1h.01M356.1,599.5h.01M356.2,601.3h.01M357.7,603.7h.01M358.9,604.6h.01M359.8,605.4h.01M360.5,606.6h.01M361.6,606.7h.01M364.0,607.4h.01M366.0,607.9h.01M367.3,607.5h.01M368.2,608.3h.01M369.2,608.3h.01M371.0,608.4h.01" fill="none" stroke="#00ffff" stroke-width="0.8" stroke-opacity="0.3" stroke-linecap="round"/>
<path d="M372.4,566.9h.01M371.5,567.9h.01M370.0,568.5h.01M367.9,569.9h.01M368.1,571.1h.01M369.4,571.8h.01" fill="none" stroke="#00ffff" stroke-width="0.8" stroke-opacity="0.3" stroke-linecap="round"/>
<path d="M363.5,472.1h.01M364.1,472.4h.01M364.7,472.3h.01M365.0,472.5h.01M364.5,473.1h.01M365.7,473.7h.01M366.1,473.6h.01M365.3,472.9h.01M364.0,473.0h.01M365.1,472.7h.01M362.4,469.8h.01M362.3,470.5h.01M362.5,471.0h.01M363.4,471.5h.01M363.1,471.7h.01M363.8,471.5h.01M364.3,471.9h.01M364.0,472.8h.01M365.0,473.0h.01M362.9,471.3h.01M363.7,471.0h.01M364.0,471.2h.01M375.7,478.3h.01M376.4,479.4h.01M376.7,479.5h.01M376.3,479.8h.01M376.2,480.1h.01M376.4,479.3h.01M376.7,480.0h.01M375.9,479.8h.01M377.0,482.9h.01M376.6,483.2h.01M376.6,483.6h.01M376.9,484.4h.01M376.9,484.8h.01M377.4,485.6h.01M377.6,486.0h.01M377.8,485.7h.01M378.1,486.0h.01M376.6,484.1h.01M377.4,485.2h.01M376.9,484.4h.01M376.2,480.1h.01M376.8,480.5h.01M376.5,481.1h.01M376.6,480.8h.01M376.9,481.7h.01M376.7,482.3h.01M377.0,483.0h.01M377.0,482.7h.01M377.1,483.7h.01M376.5,484.1h.01M377.2,484.5h.01M376.6,481.8h.01M376.9,481.7h.01M377.3,481.6h.01M379.7,488.9h.01M379.5,489.9h.01M380.4,490.0h.01M380.5,490.3h.01M380.2,490.7h.01M380.2,491.1h.01M381.0,491.4h.01M381.2,491.6h.01M380.7,492.5h.01M381.1,493.2h.01M380.7,493.6h.01M380.0,491.6h.01M380.9,490.6h.01M381.3,490.9h.01M378.2,487.3h.01M378.3,487.3h.01M378.5,488.2h.01M378.8,488.1h.01M379.0,488.5h.01M379.8,489.3h.01M380.2,489.9h.01M380.0,490.3h.01M379.8,490.7h.01M380.4,490.4h.01M380.9,491.4h.01M380.0,488.5h.01M380.8,489.3h.01M380.4,489.6h.01M379.4,501.0h.01M379.1,501.6h.01M379.5,501.8h.01M379.4,502.2h.01M379.3,502.8h.01M380.0,501.8h.01M378.7,502.6h.01M379.0,502.1h.01M380.9,498.9h.01M381.4,499.1h.01M380.4,499.0h.01M380.2,499.6h.01M380.5,499.7h.01M380.2,500.7h.01M379.5,500.9h.01M380.0,501.4h.01M379.5,502.1h.01M379.4,502.0h.01M379.3,502.9h.01M380.4,500.7h.01M379.9,499.8h.01M379.3,500.1h.01M380.9,508.1h.01M381.2,508.6h.01M381.5,508.5h.01M381.4,508.8h.01M381.1,509.6h.01M380.9,508.8h.01M381.3,509.4h.01M380.7,509.3h.01M381.0,509.9h.01M381.5,510.2h.01M381.6,510.8h.01M381.5,510.7h.01M381.6,511.1h.01M381.5,511.4h.01M381.8,512.2h.01M380.9,511.2h.01M380.6,511.2h.01M381.7,510.3h.01M377.9,518.5h.01M377.7,518.5h.01M377.9,518.6h.01M377.6,519.0h.01M377.0,519.5h.01M377.7,518.7h.01M377.5,518.5h.01M377.5,519.0h.01M375.8,522.6h.01M375.9,522.4h.01M375.7,523.4h.01M375.7,523.6h.01M376.0,524.1h.01M376.3,523.4h.01M376.1,522.9h.01M376.1,523.0h.01M376.7,526.3h.01M376.7,527.5h.01M376.2,527.7h.01M376.8,528.3h.01M376.9,528.4h.01M376.9,529.3h.01M376.4,529.4h.01M376.6,529.5h.01M376.2,530.6h.01M376.9,530.5h.01M376.7,531.6h.01M375.9,528.8h.01M377.1,529.2h.01M377.3,529.3h.01M376.3,525.7h.01M376.0,525.6h.01M376.6,526.1h.01M376.6,526.5h.01M376.2,526.8h.01M375.9,527.1h.01M376.1,527.1h.01M375.7,526.4h.01M376.3,541.5h.01M376.6,541.9h.01M376.2,542.4h.01M376.7,542.9h.01M376.6,543.1h.01M376.4,543.9h.01M376.2,544.1h.01M376.9,545.1h.01M376.9,545.2h.01M376.9,545.7h.01M376.1,546.1h.01M377.4,543.6h.01M376.3,543.3h.01M376.4,543.3h.01M376.6,540.0h.01M376.4,540.8h.01M376.3,541.4h.01M376.4,541.5h.01M377.0,542.0h.01M376.5,542.7h.01M377.0,543.1h.01M376.6,542.0h.01M376.1,542.0h.01M376.9,541.1h.01M375.4,557.1h.01M375.6,557.5h.01M375.6,557.8h.01M374.6,558.6h.01M374.6,559.0h.01M374.3,559.7h.01M374.6,560.0h.01M375.8,559.1h.01M375.4,558.8h.01M374.3,558.0h.01M374.8,557.9h.01M375.4,558.8h.01M374.9,558.8h.01M374.8,559.4h.01M374.2,559.9h.01M374.7,560.6h.01M373.8,560.3h.01M373.5,561.1h.01M373.9,561.8h.01M373.6,561.7h.01M373.7,561.8h.01M374.5,560.5h.01M374.2,560.7h.01M374.9,560.3h.01M373.5,565.3h.01M374.1,566.0h.01M374.3,566.1h.01M374.1,566.2h.01M374.1,566.9h.01M373.6,567.7h.01M373.3,567.4h.01M373.0,567.8h.01M373.2,568.8h.01M372.7,568.9h.01M372.8,569.4h.01M372.4,566.7h.01M371.7,566.1h.01M372.4,566.3h.01M373.5,565.9h.01M373.6,565.7h.01M373.9,566.4h.01M373.7,567.1h.01M373.4,567.4h.01M375.0,566.5h.01M374.5,567.1h.01M374.7,566.2h.01M376.1,566.1h.01M376.5,566.1h.01M377.0,566.5h.01M371.5,576.0h.01M372.0,576.3h.01M372.0,576.5h.01M373.0,576.5h.01M372.8,577.7h.01M373.0,577.7h.01M373.4,578.4h.01M373.3,578.9h.01M373.4,578.9h.01M372.2,576.9h.01M372.9,577.7h.01M372.4,577.3h.01M372.0,575.7h.01M372.2,575.8h.01M372.7,576.1h.01M372.3,576.8h.01M372.6,576.9h.01M373.1,578.1h.01M372.9,577.9h.01M371.8,577.1h.01M371.3,577.6h.01M371.4,577.0h.01M374.1,588.1h.01M374.4,588.9h.01M374.6,589.4h.01M374.5,589.4h.01M375.1,590.2h.01M374.6,588.9h.01M374.8,589.9h.01M374.1,588.9h.01M374.0,587.2h.01M374.6,587.6h.01M374.9,587.5h.01M374.7,588.7h.01M374.3,588.7h.01M374.3,589.3h.01M374.9,589.6h.01M374.9,590.0h.01M375.0,590.4h.01M375.3,591.0h.01M374.4,591.1h.01M373.8,589.8h.01M373.6,589.0h.01M374.0,589.7h.01" fill="none" stroke="#00ffff" stroke-width="1.25" stroke-opacity="1" stroke-linecap="round"/>
<line x1="365" y1="611.3" x2="379" y2="611.3" stroke="#00ffff" stroke-width="1.2" stroke-opacity="0.75" stroke-dasharray="3 1.2"/>
</svg>
</body></html>
